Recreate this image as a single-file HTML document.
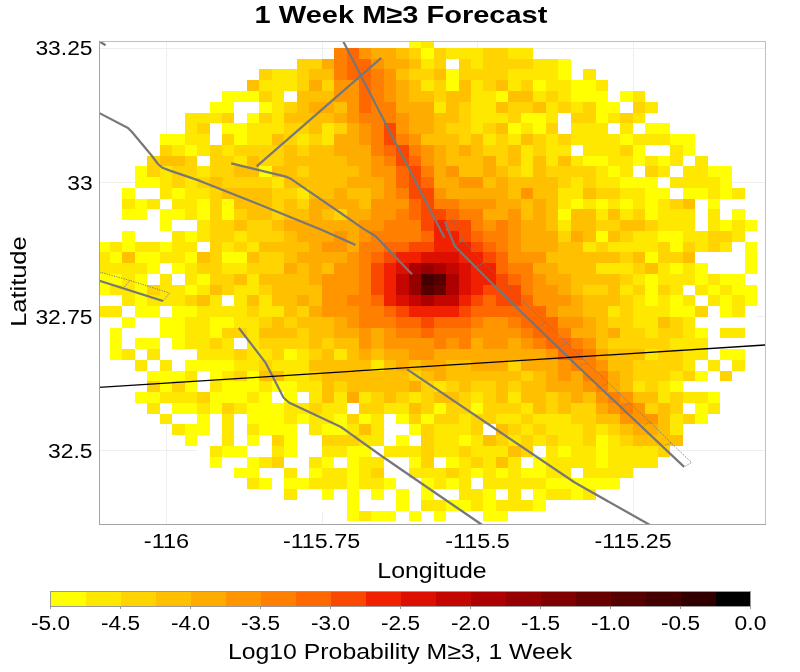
<!DOCTYPE html>
<html><head><meta charset="utf-8"><style>
html,body{margin:0;padding:0;background:#fff;}
svg{display:block;will-change:transform;}
text{font-family:"Liberation Sans",sans-serif;fill:#000;}
</style></head><body>
<svg width="800" height="672" viewBox="0 0 800 672">
<rect width="800" height="672" fill="#fff"/>
<text x="401" y="23" font-size="24.5" font-weight="bold" text-anchor="middle" textLength="292.8" lengthAdjust="spacingAndGlyphs">1 Week M≥3 Forecast</text>
<g stroke="#efefef" stroke-width="1" shape-rendering="crispEdges">
<line x1="166.5" y1="41" x2="166.5" y2="524"/><line x1="322.5" y1="41" x2="322.5" y2="524"/>
<line x1="477.5" y1="41" x2="477.5" y2="524"/><line x1="633.5" y1="41" x2="633.5" y2="524"/>
<line x1="99" y1="48.5" x2="765" y2="48.5"/><line x1="99" y1="182.5" x2="765" y2="182.5"/>
<line x1="99" y1="316.5" x2="765" y2="316.5"/><line x1="99" y1="450.5" x2="765" y2="450.5"/>
</g>
<g shape-rendering="crispEdges">
<rect x="396" y="42" width="13" height="6" fill="#ffffff"/>
<rect x="409" y="42" width="12" height="6" fill="#ffff00"/>
<rect x="421" y="42" width="13" height="6" fill="#ffe800"/>
<rect x="434" y="42" width="25" height="6" fill="#ffffff"/>
<rect x="334" y="48" width="13" height="11" fill="#ff8000"/>
<rect x="347" y="48" width="12" height="11" fill="#ff6700"/>
<rect x="359" y="48" width="12" height="11" fill="#ff9600"/>
<rect x="371" y="48" width="25" height="11" fill="#ffac00"/>
<rect x="396" y="48" width="13" height="11" fill="#ffc000"/>
<rect x="409" y="48" width="12" height="11" fill="#ffd400"/>
<rect x="421" y="48" width="13" height="11" fill="#ffff00"/>
<rect x="434" y="48" width="12" height="11" fill="#ffd400"/>
<rect x="446" y="48" width="37" height="11" fill="#ffe800"/>
<rect x="483" y="48" width="25" height="11" fill="#ffd400"/>
<rect x="508" y="48" width="25" height="11" fill="#ffe800"/>
<rect x="297" y="59" width="25" height="10" fill="#ffd400"/>
<rect x="322" y="59" width="12" height="10" fill="#ffac00"/>
<rect x="334" y="59" width="13" height="10" fill="#ff8000"/>
<rect x="347" y="59" width="24" height="10" fill="#ff6700"/>
<rect x="371" y="59" width="13" height="10" fill="#ff9600"/>
<rect x="384" y="59" width="25" height="10" fill="#ffac00"/>
<rect x="409" y="59" width="12" height="10" fill="#ffc000"/>
<rect x="421" y="59" width="13" height="10" fill="#ffe800"/>
<rect x="434" y="59" width="12" height="10" fill="#ffd400"/>
<rect x="446" y="59" width="13" height="10" fill="#ffffff"/>
<rect x="459" y="59" width="12" height="10" fill="#ffd400"/>
<rect x="471" y="59" width="12" height="10" fill="#ffe800"/>
<rect x="483" y="59" width="50" height="10" fill="#ffd400"/>
<rect x="533" y="59" width="25" height="10" fill="#ffe800"/>
<rect x="558" y="59" width="13" height="10" fill="#ffff00"/>
<rect x="259" y="69" width="13" height="11" fill="#ffd400"/>
<rect x="272" y="69" width="25" height="11" fill="#ffe800"/>
<rect x="297" y="69" width="12" height="11" fill="#ffd400"/>
<rect x="309" y="69" width="25" height="11" fill="#ffc000"/>
<rect x="334" y="69" width="13" height="11" fill="#ff8000"/>
<rect x="347" y="69" width="24" height="11" fill="#ff6700"/>
<rect x="371" y="69" width="13" height="11" fill="#ff8000"/>
<rect x="384" y="69" width="12" height="11" fill="#ff9600"/>
<rect x="396" y="69" width="13" height="11" fill="#ffc000"/>
<rect x="409" y="69" width="25" height="11" fill="#ffd400"/>
<rect x="434" y="69" width="12" height="11" fill="#ffc000"/>
<rect x="446" y="69" width="13" height="11" fill="#ffff00"/>
<rect x="459" y="69" width="49" height="11" fill="#ffd400"/>
<rect x="508" y="69" width="50" height="11" fill="#ffe800"/>
<rect x="558" y="69" width="13" height="11" fill="#ffff00"/>
<rect x="571" y="69" width="12" height="11" fill="#ffffff"/>
<rect x="583" y="69" width="13" height="11" fill="#ffe800"/>
<rect x="234" y="80" width="13" height="11" fill="#ffffff"/>
<rect x="247" y="80" width="12" height="11" fill="#ffc000"/>
<rect x="259" y="80" width="38" height="11" fill="#ffe800"/>
<rect x="297" y="80" width="12" height="11" fill="#ffd400"/>
<rect x="309" y="80" width="13" height="11" fill="#ffac00"/>
<rect x="322" y="80" width="12" height="11" fill="#ffd400"/>
<rect x="334" y="80" width="25" height="11" fill="#ff9600"/>
<rect x="359" y="80" width="12" height="11" fill="#ff6700"/>
<rect x="371" y="80" width="13" height="11" fill="#ff8000"/>
<rect x="384" y="80" width="12" height="11" fill="#ff9600"/>
<rect x="396" y="80" width="13" height="11" fill="#ffac00"/>
<rect x="409" y="80" width="12" height="11" fill="#ffc000"/>
<rect x="421" y="80" width="13" height="11" fill="#ffe800"/>
<rect x="434" y="80" width="12" height="11" fill="#ffd400"/>
<rect x="446" y="80" width="13" height="11" fill="#ffff00"/>
<rect x="459" y="80" width="12" height="11" fill="#ffc000"/>
<rect x="471" y="80" width="12" height="11" fill="#ffe800"/>
<rect x="483" y="80" width="13" height="11" fill="#ffd400"/>
<rect x="496" y="80" width="12" height="11" fill="#ffc000"/>
<rect x="508" y="80" width="13" height="11" fill="#ffe800"/>
<rect x="521" y="80" width="12" height="11" fill="#ffd400"/>
<rect x="533" y="80" width="13" height="11" fill="#ffff00"/>
<rect x="546" y="80" width="25" height="11" fill="#ffe800"/>
<rect x="571" y="80" width="25" height="11" fill="#ffff00"/>
<rect x="596" y="80" width="12" height="11" fill="#ffe800"/>
<rect x="608" y="80" width="12" height="11" fill="#ffffff"/>
<rect x="222" y="91" width="37" height="11" fill="#ffff00"/>
<rect x="259" y="91" width="13" height="11" fill="#ffd400"/>
<rect x="272" y="91" width="12" height="11" fill="#ffe800"/>
<rect x="284" y="91" width="13" height="11" fill="#ffffff"/>
<rect x="297" y="91" width="37" height="11" fill="#ffc000"/>
<rect x="334" y="91" width="25" height="11" fill="#ff9600"/>
<rect x="359" y="91" width="12" height="11" fill="#ff6700"/>
<rect x="371" y="91" width="13" height="11" fill="#ff8000"/>
<rect x="384" y="91" width="12" height="11" fill="#ff9600"/>
<rect x="396" y="91" width="13" height="11" fill="#ffac00"/>
<rect x="409" y="91" width="25" height="11" fill="#ffc000"/>
<rect x="434" y="91" width="12" height="11" fill="#ffd400"/>
<rect x="446" y="91" width="25" height="11" fill="#ffc000"/>
<rect x="471" y="91" width="25" height="11" fill="#ffe800"/>
<rect x="496" y="91" width="12" height="11" fill="#ffff00"/>
<rect x="508" y="91" width="25" height="11" fill="#ffc000"/>
<rect x="533" y="91" width="13" height="11" fill="#ffe800"/>
<rect x="546" y="91" width="12" height="11" fill="#ffd400"/>
<rect x="558" y="91" width="13" height="11" fill="#ffe800"/>
<rect x="571" y="91" width="37" height="11" fill="#ffff00"/>
<rect x="608" y="91" width="12" height="11" fill="#ffffff"/>
<rect x="620" y="91" width="13" height="11" fill="#ffff00"/>
<rect x="633" y="91" width="12" height="11" fill="#ffe800"/>
<rect x="210" y="102" width="24" height="11" fill="#ffff00"/>
<rect x="234" y="102" width="25" height="11" fill="#ffffff"/>
<rect x="259" y="102" width="13" height="11" fill="#ffff00"/>
<rect x="272" y="102" width="12" height="11" fill="#ffe800"/>
<rect x="284" y="102" width="13" height="11" fill="#ffd400"/>
<rect x="297" y="102" width="12" height="11" fill="#ffc000"/>
<rect x="309" y="102" width="25" height="11" fill="#ffac00"/>
<rect x="334" y="102" width="13" height="11" fill="#ffc000"/>
<rect x="347" y="102" width="12" height="11" fill="#ff9600"/>
<rect x="359" y="102" width="12" height="11" fill="#ff6700"/>
<rect x="371" y="102" width="25" height="11" fill="#ff8000"/>
<rect x="396" y="102" width="38" height="11" fill="#ffac00"/>
<rect x="434" y="102" width="12" height="11" fill="#ffe800"/>
<rect x="446" y="102" width="13" height="11" fill="#ffc000"/>
<rect x="459" y="102" width="12" height="11" fill="#ffd400"/>
<rect x="471" y="102" width="25" height="11" fill="#ffe800"/>
<rect x="496" y="102" width="12" height="11" fill="#ffc000"/>
<rect x="508" y="102" width="25" height="11" fill="#ffd400"/>
<rect x="533" y="102" width="13" height="11" fill="#ffc000"/>
<rect x="546" y="102" width="12" height="11" fill="#ffe800"/>
<rect x="558" y="102" width="13" height="11" fill="#ffd400"/>
<rect x="571" y="102" width="12" height="11" fill="#ffe800"/>
<rect x="583" y="102" width="13" height="11" fill="#ffd400"/>
<rect x="596" y="102" width="24" height="11" fill="#ffff00"/>
<rect x="620" y="102" width="13" height="11" fill="#ffffff"/>
<rect x="633" y="102" width="12" height="11" fill="#ffd400"/>
<rect x="645" y="102" width="13" height="11" fill="#ffe800"/>
<rect x="185" y="113" width="37" height="10" fill="#ffe800"/>
<rect x="222" y="113" width="12" height="10" fill="#ffd400"/>
<rect x="234" y="113" width="13" height="10" fill="#ffffff"/>
<rect x="247" y="113" width="12" height="10" fill="#ffff00"/>
<rect x="259" y="113" width="13" height="10" fill="#ffd400"/>
<rect x="272" y="113" width="12" height="10" fill="#ffe800"/>
<rect x="284" y="113" width="50" height="10" fill="#ffc000"/>
<rect x="334" y="113" width="13" height="10" fill="#ffac00"/>
<rect x="347" y="113" width="12" height="10" fill="#ff9600"/>
<rect x="359" y="113" width="37" height="10" fill="#ff8000"/>
<rect x="396" y="113" width="13" height="10" fill="#ff9600"/>
<rect x="409" y="113" width="25" height="10" fill="#ffac00"/>
<rect x="434" y="113" width="25" height="10" fill="#ffc000"/>
<rect x="459" y="113" width="12" height="10" fill="#ffd400"/>
<rect x="471" y="113" width="37" height="10" fill="#ffe800"/>
<rect x="508" y="113" width="13" height="10" fill="#ffd400"/>
<rect x="521" y="113" width="25" height="10" fill="#ffff00"/>
<rect x="546" y="113" width="12" height="10" fill="#ffe800"/>
<rect x="558" y="113" width="13" height="10" fill="#ffffff"/>
<rect x="571" y="113" width="25" height="10" fill="#ffd400"/>
<rect x="596" y="113" width="12" height="10" fill="#ffff00"/>
<rect x="608" y="113" width="12" height="10" fill="#ffe800"/>
<rect x="620" y="113" width="13" height="10" fill="#ffd400"/>
<rect x="633" y="113" width="12" height="10" fill="#ffe800"/>
<rect x="645" y="113" width="25" height="10" fill="#ffffff"/>
<rect x="172" y="123" width="13" height="11" fill="#ffffff"/>
<rect x="185" y="123" width="12" height="11" fill="#ffe800"/>
<rect x="197" y="123" width="13" height="11" fill="#ffd400"/>
<rect x="210" y="123" width="12" height="11" fill="#ffffff"/>
<rect x="222" y="123" width="25" height="11" fill="#ffff00"/>
<rect x="247" y="123" width="37" height="11" fill="#ffe800"/>
<rect x="284" y="123" width="25" height="11" fill="#ffd400"/>
<rect x="309" y="123" width="13" height="11" fill="#ffc000"/>
<rect x="322" y="123" width="12" height="11" fill="#ffe800"/>
<rect x="334" y="123" width="13" height="11" fill="#ffd400"/>
<rect x="347" y="123" width="12" height="11" fill="#ffac00"/>
<rect x="359" y="123" width="12" height="11" fill="#ff9600"/>
<rect x="371" y="123" width="13" height="11" fill="#ff8000"/>
<rect x="384" y="123" width="12" height="11" fill="#fa4800"/>
<rect x="396" y="123" width="13" height="11" fill="#ff9600"/>
<rect x="409" y="123" width="25" height="11" fill="#ffac00"/>
<rect x="434" y="123" width="12" height="11" fill="#ffc000"/>
<rect x="446" y="123" width="25" height="11" fill="#ffd400"/>
<rect x="471" y="123" width="12" height="11" fill="#ffe800"/>
<rect x="483" y="123" width="13" height="11" fill="#ffd400"/>
<rect x="496" y="123" width="12" height="11" fill="#ffc000"/>
<rect x="508" y="123" width="13" height="11" fill="#ffff00"/>
<rect x="521" y="123" width="12" height="11" fill="#ffe800"/>
<rect x="533" y="123" width="13" height="11" fill="#ffff00"/>
<rect x="546" y="123" width="12" height="11" fill="#ffd400"/>
<rect x="558" y="123" width="13" height="11" fill="#ffffff"/>
<rect x="571" y="123" width="37" height="11" fill="#ffe800"/>
<rect x="608" y="123" width="12" height="11" fill="#ffffff"/>
<rect x="620" y="123" width="13" height="11" fill="#ffe800"/>
<rect x="633" y="123" width="12" height="11" fill="#ffffff"/>
<rect x="645" y="123" width="25" height="11" fill="#ffff00"/>
<rect x="670" y="123" width="13" height="11" fill="#ffffff"/>
<rect x="160" y="134" width="25" height="11" fill="#ffff00"/>
<rect x="185" y="134" width="25" height="11" fill="#ffe800"/>
<rect x="210" y="134" width="12" height="11" fill="#ffffff"/>
<rect x="222" y="134" width="12" height="11" fill="#ffd400"/>
<rect x="234" y="134" width="13" height="11" fill="#ffff00"/>
<rect x="247" y="134" width="25" height="11" fill="#ffe800"/>
<rect x="272" y="134" width="12" height="11" fill="#ffc000"/>
<rect x="284" y="134" width="13" height="11" fill="#ffd400"/>
<rect x="297" y="134" width="12" height="11" fill="#ffe800"/>
<rect x="309" y="134" width="13" height="11" fill="#ffd400"/>
<rect x="322" y="134" width="12" height="11" fill="#ffe800"/>
<rect x="334" y="134" width="25" height="11" fill="#ffac00"/>
<rect x="359" y="134" width="12" height="11" fill="#ff9600"/>
<rect x="371" y="134" width="13" height="11" fill="#ff8000"/>
<rect x="384" y="134" width="12" height="11" fill="#fa4800"/>
<rect x="396" y="134" width="13" height="11" fill="#ff8000"/>
<rect x="409" y="134" width="12" height="11" fill="#ff9600"/>
<rect x="421" y="134" width="38" height="11" fill="#ffc000"/>
<rect x="459" y="134" width="12" height="11" fill="#ffd400"/>
<rect x="471" y="134" width="12" height="11" fill="#ffc000"/>
<rect x="483" y="134" width="13" height="11" fill="#ffe800"/>
<rect x="496" y="134" width="12" height="11" fill="#ffd400"/>
<rect x="508" y="134" width="13" height="11" fill="#ffe800"/>
<rect x="521" y="134" width="12" height="11" fill="#ffc000"/>
<rect x="533" y="134" width="13" height="11" fill="#ffd400"/>
<rect x="546" y="134" width="12" height="11" fill="#ffe800"/>
<rect x="558" y="134" width="13" height="11" fill="#ffd400"/>
<rect x="571" y="134" width="49" height="11" fill="#ffe800"/>
<rect x="620" y="134" width="13" height="11" fill="#ffff00"/>
<rect x="633" y="134" width="37" height="11" fill="#ffe800"/>
<rect x="670" y="134" width="25" height="11" fill="#ffff00"/>
<rect x="160" y="145" width="12" height="11" fill="#ffd400"/>
<rect x="172" y="145" width="13" height="11" fill="#ffe800"/>
<rect x="185" y="145" width="12" height="11" fill="#ffff00"/>
<rect x="197" y="145" width="13" height="11" fill="#ffe800"/>
<rect x="210" y="145" width="12" height="11" fill="#ffd400"/>
<rect x="222" y="145" width="12" height="11" fill="#ffe800"/>
<rect x="234" y="145" width="50" height="11" fill="#ffd400"/>
<rect x="284" y="145" width="13" height="11" fill="#ffc000"/>
<rect x="297" y="145" width="12" height="11" fill="#ffd400"/>
<rect x="309" y="145" width="25" height="11" fill="#ffc000"/>
<rect x="334" y="145" width="37" height="11" fill="#ffac00"/>
<rect x="371" y="145" width="13" height="11" fill="#ff8000"/>
<rect x="384" y="145" width="12" height="11" fill="#ff6700"/>
<rect x="396" y="145" width="13" height="11" fill="#fa4800"/>
<rect x="409" y="145" width="12" height="11" fill="#ff8000"/>
<rect x="421" y="145" width="13" height="11" fill="#ff9600"/>
<rect x="434" y="145" width="12" height="11" fill="#ffac00"/>
<rect x="446" y="145" width="13" height="11" fill="#ffc000"/>
<rect x="459" y="145" width="12" height="11" fill="#ffac00"/>
<rect x="471" y="145" width="12" height="11" fill="#ffc000"/>
<rect x="483" y="145" width="25" height="11" fill="#ffd400"/>
<rect x="508" y="145" width="13" height="11" fill="#ffc000"/>
<rect x="521" y="145" width="12" height="11" fill="#ffe800"/>
<rect x="533" y="145" width="13" height="11" fill="#ffd400"/>
<rect x="546" y="145" width="25" height="11" fill="#ffe800"/>
<rect x="571" y="145" width="12" height="11" fill="#ffffff"/>
<rect x="583" y="145" width="37" height="11" fill="#ffe800"/>
<rect x="620" y="145" width="13" height="11" fill="#ffd400"/>
<rect x="633" y="145" width="12" height="11" fill="#ffff00"/>
<rect x="645" y="145" width="25" height="11" fill="#ffffff"/>
<rect x="670" y="145" width="13" height="11" fill="#ffe800"/>
<rect x="683" y="145" width="12" height="11" fill="#ffff00"/>
<rect x="695" y="145" width="13" height="11" fill="#ffffff"/>
<rect x="147" y="156" width="13" height="10" fill="#ffd400"/>
<rect x="160" y="156" width="25" height="10" fill="#ffc000"/>
<rect x="185" y="156" width="12" height="10" fill="#ffd400"/>
<rect x="197" y="156" width="13" height="10" fill="#ffffff"/>
<rect x="210" y="156" width="24" height="10" fill="#ffd400"/>
<rect x="234" y="156" width="13" height="10" fill="#ffe800"/>
<rect x="247" y="156" width="12" height="10" fill="#ffc000"/>
<rect x="259" y="156" width="25" height="10" fill="#ffd400"/>
<rect x="284" y="156" width="63" height="10" fill="#ffc000"/>
<rect x="347" y="156" width="24" height="10" fill="#ffac00"/>
<rect x="371" y="156" width="13" height="10" fill="#ff9600"/>
<rect x="384" y="156" width="12" height="10" fill="#ff8000"/>
<rect x="396" y="156" width="13" height="10" fill="#fa4800"/>
<rect x="409" y="156" width="12" height="10" fill="#ff6700"/>
<rect x="421" y="156" width="13" height="10" fill="#ff9600"/>
<rect x="434" y="156" width="12" height="10" fill="#ffac00"/>
<rect x="446" y="156" width="37" height="10" fill="#ffc000"/>
<rect x="483" y="156" width="13" height="10" fill="#ffac00"/>
<rect x="496" y="156" width="12" height="10" fill="#ffd400"/>
<rect x="508" y="156" width="13" height="10" fill="#ffc000"/>
<rect x="521" y="156" width="12" height="10" fill="#ffe800"/>
<rect x="533" y="156" width="13" height="10" fill="#ffc000"/>
<rect x="546" y="156" width="12" height="10" fill="#ffe800"/>
<rect x="558" y="156" width="13" height="10" fill="#ffc000"/>
<rect x="571" y="156" width="12" height="10" fill="#ffe800"/>
<rect x="583" y="156" width="25" height="10" fill="#ffff00"/>
<rect x="608" y="156" width="25" height="10" fill="#ffe800"/>
<rect x="633" y="156" width="12" height="10" fill="#ffff00"/>
<rect x="645" y="156" width="13" height="10" fill="#ffe800"/>
<rect x="658" y="156" width="12" height="10" fill="#ffff00"/>
<rect x="670" y="156" width="13" height="10" fill="#ffe800"/>
<rect x="683" y="156" width="12" height="10" fill="#ffffff"/>
<rect x="695" y="156" width="13" height="10" fill="#ffe800"/>
<rect x="708" y="156" width="12" height="10" fill="#ffffff"/>
<rect x="135" y="166" width="12" height="11" fill="#ffff00"/>
<rect x="147" y="166" width="13" height="11" fill="#ffd400"/>
<rect x="160" y="166" width="12" height="11" fill="#ffe800"/>
<rect x="172" y="166" width="25" height="11" fill="#ffd400"/>
<rect x="197" y="166" width="13" height="11" fill="#ffe800"/>
<rect x="210" y="166" width="24" height="11" fill="#ffd400"/>
<rect x="234" y="166" width="25" height="11" fill="#ffc000"/>
<rect x="259" y="166" width="13" height="11" fill="#ffff00"/>
<rect x="272" y="166" width="25" height="11" fill="#ffc000"/>
<rect x="297" y="166" width="12" height="11" fill="#ffd400"/>
<rect x="309" y="166" width="50" height="11" fill="#ffc000"/>
<rect x="359" y="166" width="12" height="11" fill="#ffac00"/>
<rect x="371" y="166" width="25" height="11" fill="#ff9600"/>
<rect x="396" y="166" width="13" height="11" fill="#ff6700"/>
<rect x="409" y="166" width="12" height="11" fill="#fa4800"/>
<rect x="421" y="166" width="13" height="11" fill="#ff8000"/>
<rect x="434" y="166" width="12" height="11" fill="#ffac00"/>
<rect x="446" y="166" width="13" height="11" fill="#ff9600"/>
<rect x="459" y="166" width="24" height="11" fill="#ffc000"/>
<rect x="483" y="166" width="13" height="11" fill="#ffac00"/>
<rect x="496" y="166" width="12" height="11" fill="#ffc000"/>
<rect x="508" y="166" width="13" height="11" fill="#ffd400"/>
<rect x="521" y="166" width="12" height="11" fill="#ffe800"/>
<rect x="533" y="166" width="13" height="11" fill="#ffc000"/>
<rect x="546" y="166" width="50" height="11" fill="#ffd400"/>
<rect x="596" y="166" width="12" height="11" fill="#ffe800"/>
<rect x="608" y="166" width="12" height="11" fill="#ffff00"/>
<rect x="620" y="166" width="13" height="11" fill="#ffe800"/>
<rect x="633" y="166" width="12" height="11" fill="#ffffff"/>
<rect x="645" y="166" width="13" height="11" fill="#ffd400"/>
<rect x="658" y="166" width="12" height="11" fill="#ffe800"/>
<rect x="670" y="166" width="13" height="11" fill="#ffffff"/>
<rect x="683" y="166" width="25" height="11" fill="#ffe800"/>
<rect x="708" y="166" width="24" height="11" fill="#ffff00"/>
<rect x="135" y="177" width="25" height="11" fill="#ffff00"/>
<rect x="160" y="177" width="12" height="11" fill="#ffe800"/>
<rect x="172" y="177" width="13" height="11" fill="#ffd400"/>
<rect x="185" y="177" width="12" height="11" fill="#ffe800"/>
<rect x="197" y="177" width="13" height="11" fill="#ffd400"/>
<rect x="210" y="177" width="12" height="11" fill="#ffc000"/>
<rect x="222" y="177" width="50" height="11" fill="#ffd400"/>
<rect x="272" y="177" width="12" height="11" fill="#ffe800"/>
<rect x="284" y="177" width="63" height="11" fill="#ffc000"/>
<rect x="347" y="177" width="37" height="11" fill="#ffac00"/>
<rect x="384" y="177" width="12" height="11" fill="#ff9600"/>
<rect x="396" y="177" width="13" height="11" fill="#ff6700"/>
<rect x="409" y="177" width="12" height="11" fill="#fa4800"/>
<rect x="421" y="177" width="13" height="11" fill="#ff6700"/>
<rect x="434" y="177" width="25" height="11" fill="#ffac00"/>
<rect x="459" y="177" width="24" height="11" fill="#ff9600"/>
<rect x="483" y="177" width="13" height="11" fill="#ffc000"/>
<rect x="496" y="177" width="12" height="11" fill="#ffac00"/>
<rect x="508" y="177" width="50" height="11" fill="#ffc000"/>
<rect x="558" y="177" width="13" height="11" fill="#ffd400"/>
<rect x="571" y="177" width="12" height="11" fill="#ffe800"/>
<rect x="583" y="177" width="13" height="11" fill="#ffd400"/>
<rect x="596" y="177" width="24" height="11" fill="#ffe800"/>
<rect x="620" y="177" width="38" height="11" fill="#ffff00"/>
<rect x="658" y="177" width="12" height="11" fill="#ffffff"/>
<rect x="670" y="177" width="50" height="11" fill="#ffe800"/>
<rect x="720" y="177" width="12" height="11" fill="#ffff00"/>
<rect x="122" y="188" width="13" height="11" fill="#ffff00"/>
<rect x="135" y="188" width="25" height="11" fill="#ffffff"/>
<rect x="160" y="188" width="12" height="11" fill="#ffe800"/>
<rect x="172" y="188" width="13" height="11" fill="#ffff00"/>
<rect x="185" y="188" width="25" height="11" fill="#ffe800"/>
<rect x="210" y="188" width="12" height="11" fill="#ffd400"/>
<rect x="222" y="188" width="50" height="11" fill="#ffc000"/>
<rect x="272" y="188" width="25" height="11" fill="#ffd400"/>
<rect x="297" y="188" width="12" height="11" fill="#ffe800"/>
<rect x="309" y="188" width="25" height="11" fill="#ffc000"/>
<rect x="334" y="188" width="13" height="11" fill="#ffac00"/>
<rect x="347" y="188" width="24" height="11" fill="#ffc000"/>
<rect x="371" y="188" width="13" height="11" fill="#ffac00"/>
<rect x="384" y="188" width="12" height="11" fill="#ff9600"/>
<rect x="396" y="188" width="13" height="11" fill="#ff8000"/>
<rect x="409" y="188" width="25" height="11" fill="#fa4800"/>
<rect x="434" y="188" width="12" height="11" fill="#ff9600"/>
<rect x="446" y="188" width="62" height="11" fill="#ffac00"/>
<rect x="508" y="188" width="13" height="11" fill="#ffc000"/>
<rect x="521" y="188" width="12" height="11" fill="#ff9600"/>
<rect x="533" y="188" width="25" height="11" fill="#ffc000"/>
<rect x="558" y="188" width="25" height="11" fill="#ffe800"/>
<rect x="583" y="188" width="13" height="11" fill="#ffc000"/>
<rect x="596" y="188" width="24" height="11" fill="#ffd400"/>
<rect x="620" y="188" width="25" height="11" fill="#ffe800"/>
<rect x="645" y="188" width="25" height="11" fill="#ffff00"/>
<rect x="670" y="188" width="13" height="11" fill="#ffffff"/>
<rect x="683" y="188" width="25" height="11" fill="#ffff00"/>
<rect x="708" y="188" width="12" height="11" fill="#ffe800"/>
<rect x="720" y="188" width="12" height="11" fill="#ffff00"/>
<rect x="732" y="188" width="13" height="11" fill="#ffe800"/>
<rect x="122" y="199" width="13" height="10" fill="#ffe800"/>
<rect x="135" y="199" width="12" height="10" fill="#ffff00"/>
<rect x="147" y="199" width="13" height="10" fill="#ffe800"/>
<rect x="160" y="199" width="12" height="10" fill="#ffffff"/>
<rect x="172" y="199" width="25" height="10" fill="#ffe800"/>
<rect x="197" y="199" width="13" height="10" fill="#ffff00"/>
<rect x="210" y="199" width="12" height="10" fill="#ffd400"/>
<rect x="222" y="199" width="12" height="10" fill="#ffff00"/>
<rect x="234" y="199" width="38" height="10" fill="#ffc000"/>
<rect x="272" y="199" width="12" height="10" fill="#ffd400"/>
<rect x="284" y="199" width="13" height="10" fill="#ffc000"/>
<rect x="297" y="199" width="12" height="10" fill="#ffd400"/>
<rect x="309" y="199" width="50" height="10" fill="#ffac00"/>
<rect x="359" y="199" width="12" height="10" fill="#ffc000"/>
<rect x="371" y="199" width="38" height="10" fill="#ff9600"/>
<rect x="409" y="199" width="12" height="10" fill="#ff6700"/>
<rect x="421" y="199" width="13" height="10" fill="#fa4800"/>
<rect x="434" y="199" width="25" height="10" fill="#ff8000"/>
<rect x="459" y="199" width="37" height="10" fill="#ff9600"/>
<rect x="496" y="199" width="25" height="10" fill="#ffac00"/>
<rect x="521" y="199" width="12" height="10" fill="#ffc000"/>
<rect x="533" y="199" width="13" height="10" fill="#ffac00"/>
<rect x="546" y="199" width="12" height="10" fill="#ffc000"/>
<rect x="558" y="199" width="13" height="10" fill="#ffe800"/>
<rect x="571" y="199" width="12" height="10" fill="#ffff00"/>
<rect x="583" y="199" width="13" height="10" fill="#ffe800"/>
<rect x="596" y="199" width="12" height="10" fill="#ffff00"/>
<rect x="608" y="199" width="12" height="10" fill="#ffe800"/>
<rect x="620" y="199" width="13" height="10" fill="#ffff00"/>
<rect x="633" y="199" width="12" height="10" fill="#ffe800"/>
<rect x="645" y="199" width="13" height="10" fill="#ffff00"/>
<rect x="658" y="199" width="12" height="10" fill="#ffe800"/>
<rect x="670" y="199" width="13" height="10" fill="#ffd400"/>
<rect x="683" y="199" width="12" height="10" fill="#ffc000"/>
<rect x="695" y="199" width="13" height="10" fill="#ffffff"/>
<rect x="708" y="199" width="12" height="10" fill="#ffff00"/>
<rect x="720" y="199" width="25" height="10" fill="#ffffff"/>
<rect x="110" y="209" width="12" height="11" fill="#ffffff"/>
<rect x="122" y="209" width="25" height="11" fill="#ffff00"/>
<rect x="147" y="209" width="13" height="11" fill="#ffffff"/>
<rect x="160" y="209" width="25" height="11" fill="#ffff00"/>
<rect x="185" y="209" width="12" height="11" fill="#ffe800"/>
<rect x="197" y="209" width="13" height="11" fill="#ffff00"/>
<rect x="210" y="209" width="12" height="11" fill="#ffd400"/>
<rect x="222" y="209" width="12" height="11" fill="#ffff00"/>
<rect x="234" y="209" width="13" height="11" fill="#ffd400"/>
<rect x="247" y="209" width="25" height="11" fill="#ffc000"/>
<rect x="272" y="209" width="12" height="11" fill="#ffd400"/>
<rect x="284" y="209" width="25" height="11" fill="#ffc000"/>
<rect x="309" y="209" width="13" height="11" fill="#ffac00"/>
<rect x="322" y="209" width="12" height="11" fill="#ffc000"/>
<rect x="334" y="209" width="13" height="11" fill="#ffd400"/>
<rect x="347" y="209" width="24" height="11" fill="#ffac00"/>
<rect x="371" y="209" width="25" height="11" fill="#ff9600"/>
<rect x="396" y="209" width="13" height="11" fill="#ff8000"/>
<rect x="409" y="209" width="12" height="11" fill="#ff6700"/>
<rect x="421" y="209" width="25" height="11" fill="#fa4800"/>
<rect x="446" y="209" width="13" height="11" fill="#ff6700"/>
<rect x="459" y="209" width="24" height="11" fill="#ff8000"/>
<rect x="483" y="209" width="25" height="11" fill="#ffac00"/>
<rect x="508" y="209" width="13" height="11" fill="#ff9600"/>
<rect x="521" y="209" width="12" height="11" fill="#ffc000"/>
<rect x="533" y="209" width="13" height="11" fill="#ffac00"/>
<rect x="546" y="209" width="12" height="11" fill="#ffc000"/>
<rect x="558" y="209" width="13" height="11" fill="#ffff00"/>
<rect x="571" y="209" width="25" height="11" fill="#ffc000"/>
<rect x="596" y="209" width="12" height="11" fill="#ffe800"/>
<rect x="608" y="209" width="12" height="11" fill="#ffc000"/>
<rect x="620" y="209" width="13" height="11" fill="#ffe800"/>
<rect x="633" y="209" width="12" height="11" fill="#ffd400"/>
<rect x="645" y="209" width="13" height="11" fill="#ffff00"/>
<rect x="658" y="209" width="37" height="11" fill="#ffe800"/>
<rect x="695" y="209" width="13" height="11" fill="#ffffff"/>
<rect x="708" y="209" width="12" height="11" fill="#ffe800"/>
<rect x="720" y="209" width="12" height="11" fill="#ffffff"/>
<rect x="732" y="209" width="13" height="11" fill="#ffff00"/>
<rect x="110" y="220" width="50" height="11" fill="#ffffff"/>
<rect x="160" y="220" width="12" height="11" fill="#ffff00"/>
<rect x="172" y="220" width="25" height="11" fill="#ffffff"/>
<rect x="197" y="220" width="13" height="11" fill="#ffe800"/>
<rect x="210" y="220" width="24" height="11" fill="#ffd400"/>
<rect x="234" y="220" width="13" height="11" fill="#ffc000"/>
<rect x="247" y="220" width="25" height="11" fill="#ffd400"/>
<rect x="272" y="220" width="12" height="11" fill="#ffc000"/>
<rect x="284" y="220" width="75" height="11" fill="#ffac00"/>
<rect x="359" y="220" width="25" height="11" fill="#ff9600"/>
<rect x="384" y="220" width="37" height="11" fill="#ff8000"/>
<rect x="421" y="220" width="13" height="11" fill="#fa4800"/>
<rect x="434" y="220" width="12" height="11" fill="#f02000"/>
<rect x="446" y="220" width="25" height="11" fill="#fa4800"/>
<rect x="471" y="220" width="12" height="11" fill="#ff8000"/>
<rect x="483" y="220" width="13" height="11" fill="#ff9600"/>
<rect x="496" y="220" width="12" height="11" fill="#ff8000"/>
<rect x="508" y="220" width="13" height="11" fill="#ff9600"/>
<rect x="521" y="220" width="25" height="11" fill="#ffac00"/>
<rect x="546" y="220" width="12" height="11" fill="#ffc000"/>
<rect x="558" y="220" width="13" height="11" fill="#ffe800"/>
<rect x="571" y="220" width="25" height="11" fill="#ffc000"/>
<rect x="596" y="220" width="24" height="11" fill="#ffd400"/>
<rect x="620" y="220" width="25" height="11" fill="#ffc000"/>
<rect x="645" y="220" width="13" height="11" fill="#ffd400"/>
<rect x="658" y="220" width="37" height="11" fill="#ffe800"/>
<rect x="695" y="220" width="13" height="11" fill="#ffffff"/>
<rect x="708" y="220" width="12" height="11" fill="#ffe800"/>
<rect x="720" y="220" width="12" height="11" fill="#ffff00"/>
<rect x="732" y="220" width="13" height="11" fill="#ffe800"/>
<rect x="745" y="220" width="12" height="11" fill="#ffff00"/>
<rect x="110" y="231" width="12" height="11" fill="#ffffff"/>
<rect x="122" y="231" width="13" height="11" fill="#ffff00"/>
<rect x="135" y="231" width="37" height="11" fill="#ffffff"/>
<rect x="172" y="231" width="13" height="11" fill="#ffe800"/>
<rect x="185" y="231" width="12" height="11" fill="#ffff00"/>
<rect x="197" y="231" width="13" height="11" fill="#ffe800"/>
<rect x="210" y="231" width="24" height="11" fill="#ffd400"/>
<rect x="234" y="231" width="13" height="11" fill="#ffe800"/>
<rect x="247" y="231" width="37" height="11" fill="#ffd400"/>
<rect x="284" y="231" width="13" height="11" fill="#ffc000"/>
<rect x="297" y="231" width="37" height="11" fill="#ffac00"/>
<rect x="334" y="231" width="13" height="11" fill="#ff9600"/>
<rect x="347" y="231" width="12" height="11" fill="#ffac00"/>
<rect x="359" y="231" width="12" height="11" fill="#ff9600"/>
<rect x="371" y="231" width="50" height="11" fill="#ff8000"/>
<rect x="421" y="231" width="13" height="11" fill="#ff6700"/>
<rect x="434" y="231" width="25" height="11" fill="#f02000"/>
<rect x="459" y="231" width="12" height="11" fill="#fa4800"/>
<rect x="471" y="231" width="12" height="11" fill="#ff6700"/>
<rect x="483" y="231" width="25" height="11" fill="#ff8000"/>
<rect x="508" y="231" width="13" height="11" fill="#ff9600"/>
<rect x="521" y="231" width="37" height="11" fill="#ffac00"/>
<rect x="558" y="231" width="13" height="11" fill="#ffd400"/>
<rect x="571" y="231" width="12" height="11" fill="#ffac00"/>
<rect x="583" y="231" width="13" height="11" fill="#ffc000"/>
<rect x="596" y="231" width="12" height="11" fill="#ffff00"/>
<rect x="608" y="231" width="12" height="11" fill="#ffc000"/>
<rect x="620" y="231" width="13" height="11" fill="#ffd400"/>
<rect x="633" y="231" width="25" height="11" fill="#ffe800"/>
<rect x="658" y="231" width="25" height="11" fill="#ffff00"/>
<rect x="683" y="231" width="25" height="11" fill="#ffe800"/>
<rect x="708" y="231" width="24" height="11" fill="#ffd400"/>
<rect x="732" y="231" width="13" height="11" fill="#ffe800"/>
<rect x="745" y="231" width="12" height="11" fill="#ffffff"/>
<rect x="100" y="242" width="10" height="10" fill="#ffff00"/>
<rect x="110" y="242" width="12" height="10" fill="#ffe800"/>
<rect x="122" y="242" width="13" height="10" fill="#ffff00"/>
<rect x="135" y="242" width="25" height="10" fill="#ffe800"/>
<rect x="160" y="242" width="12" height="10" fill="#ffff00"/>
<rect x="172" y="242" width="25" height="10" fill="#ffe800"/>
<rect x="197" y="242" width="13" height="10" fill="#ffffff"/>
<rect x="210" y="242" width="12" height="10" fill="#ffd400"/>
<rect x="222" y="242" width="12" height="10" fill="#ffe800"/>
<rect x="234" y="242" width="13" height="10" fill="#ffd400"/>
<rect x="247" y="242" width="12" height="10" fill="#ffe800"/>
<rect x="259" y="242" width="50" height="10" fill="#ffc000"/>
<rect x="309" y="242" width="13" height="10" fill="#ffac00"/>
<rect x="322" y="242" width="25" height="10" fill="#ff9600"/>
<rect x="347" y="242" width="12" height="10" fill="#ffac00"/>
<rect x="359" y="242" width="25" height="10" fill="#ff8000"/>
<rect x="384" y="242" width="25" height="10" fill="#ff6700"/>
<rect x="409" y="242" width="25" height="10" fill="#fa4800"/>
<rect x="434" y="242" width="37" height="10" fill="#f02000"/>
<rect x="471" y="242" width="12" height="10" fill="#fa4800"/>
<rect x="483" y="242" width="13" height="10" fill="#ff6700"/>
<rect x="496" y="242" width="12" height="10" fill="#ff8000"/>
<rect x="508" y="242" width="13" height="10" fill="#ff9600"/>
<rect x="521" y="242" width="37" height="10" fill="#ffac00"/>
<rect x="558" y="242" width="25" height="10" fill="#ffc000"/>
<rect x="583" y="242" width="13" height="10" fill="#ffe800"/>
<rect x="596" y="242" width="12" height="10" fill="#ffd400"/>
<rect x="608" y="242" width="50" height="10" fill="#ffe800"/>
<rect x="658" y="242" width="12" height="10" fill="#ffd400"/>
<rect x="670" y="242" width="13" height="10" fill="#ffff00"/>
<rect x="683" y="242" width="12" height="10" fill="#ffd400"/>
<rect x="695" y="242" width="13" height="10" fill="#ffe800"/>
<rect x="708" y="242" width="12" height="10" fill="#ffd400"/>
<rect x="720" y="242" width="12" height="10" fill="#ffe800"/>
<rect x="732" y="242" width="13" height="10" fill="#ffffff"/>
<rect x="745" y="242" width="12" height="10" fill="#ffff00"/>
<rect x="100" y="252" width="10" height="11" fill="#ffe800"/>
<rect x="110" y="252" width="12" height="11" fill="#ffff00"/>
<rect x="122" y="252" width="13" height="11" fill="#ffc000"/>
<rect x="135" y="252" width="25" height="11" fill="#ffff00"/>
<rect x="160" y="252" width="25" height="11" fill="#ffe800"/>
<rect x="185" y="252" width="12" height="11" fill="#ffff00"/>
<rect x="197" y="252" width="13" height="11" fill="#ffc000"/>
<rect x="210" y="252" width="12" height="11" fill="#ffd400"/>
<rect x="222" y="252" width="25" height="11" fill="#ffff00"/>
<rect x="247" y="252" width="12" height="11" fill="#ffc000"/>
<rect x="259" y="252" width="25" height="11" fill="#ffd400"/>
<rect x="284" y="252" width="13" height="11" fill="#ffc000"/>
<rect x="297" y="252" width="50" height="11" fill="#ffac00"/>
<rect x="347" y="252" width="12" height="11" fill="#ff9600"/>
<rect x="359" y="252" width="12" height="11" fill="#ff8000"/>
<rect x="371" y="252" width="13" height="11" fill="#ff6700"/>
<rect x="384" y="252" width="12" height="11" fill="#fa4800"/>
<rect x="396" y="252" width="25" height="11" fill="#f02000"/>
<rect x="421" y="252" width="38" height="11" fill="#dc0f00"/>
<rect x="459" y="252" width="24" height="11" fill="#f02000"/>
<rect x="483" y="252" width="13" height="11" fill="#fa4800"/>
<rect x="496" y="252" width="12" height="11" fill="#ff6700"/>
<rect x="508" y="252" width="38" height="11" fill="#ff9600"/>
<rect x="546" y="252" width="74" height="11" fill="#ffc000"/>
<rect x="620" y="252" width="13" height="11" fill="#ffd400"/>
<rect x="633" y="252" width="12" height="11" fill="#ffc000"/>
<rect x="645" y="252" width="13" height="11" fill="#ffff00"/>
<rect x="658" y="252" width="25" height="11" fill="#ffd400"/>
<rect x="683" y="252" width="12" height="11" fill="#ffc000"/>
<rect x="695" y="252" width="50" height="11" fill="#ffffff"/>
<rect x="745" y="252" width="12" height="11" fill="#ffff00"/>
<rect x="100" y="263" width="47" height="11" fill="#ffe800"/>
<rect x="147" y="263" width="13" height="11" fill="#ffff00"/>
<rect x="160" y="263" width="12" height="11" fill="#ffffff"/>
<rect x="172" y="263" width="13" height="11" fill="#ffff00"/>
<rect x="185" y="263" width="12" height="11" fill="#ffe800"/>
<rect x="197" y="263" width="25" height="11" fill="#ffd400"/>
<rect x="222" y="263" width="25" height="11" fill="#ffe800"/>
<rect x="247" y="263" width="37" height="11" fill="#ffd400"/>
<rect x="284" y="263" width="13" height="11" fill="#ffac00"/>
<rect x="297" y="263" width="12" height="11" fill="#ffc000"/>
<rect x="309" y="263" width="13" height="11" fill="#ffac00"/>
<rect x="322" y="263" width="12" height="11" fill="#ffc000"/>
<rect x="334" y="263" width="25" height="11" fill="#ff9600"/>
<rect x="359" y="263" width="12" height="11" fill="#ff8000"/>
<rect x="371" y="263" width="13" height="11" fill="#fa4800"/>
<rect x="384" y="263" width="12" height="11" fill="#f02000"/>
<rect x="396" y="263" width="13" height="11" fill="#dc0f00"/>
<rect x="409" y="263" width="12" height="11" fill="#ad0000"/>
<rect x="421" y="263" width="13" height="11" fill="#960000"/>
<rect x="434" y="263" width="12" height="11" fill="#ad0000"/>
<rect x="446" y="263" width="13" height="11" fill="#c40600"/>
<rect x="459" y="263" width="12" height="11" fill="#dc0f00"/>
<rect x="471" y="263" width="25" height="11" fill="#f02000"/>
<rect x="496" y="263" width="12" height="11" fill="#ff6700"/>
<rect x="508" y="263" width="25" height="11" fill="#ff8000"/>
<rect x="533" y="263" width="25" height="11" fill="#ffac00"/>
<rect x="558" y="263" width="38" height="11" fill="#ffc000"/>
<rect x="596" y="263" width="37" height="11" fill="#ffe800"/>
<rect x="633" y="263" width="12" height="11" fill="#ffd400"/>
<rect x="645" y="263" width="13" height="11" fill="#ffc000"/>
<rect x="658" y="263" width="12" height="11" fill="#ffe800"/>
<rect x="670" y="263" width="13" height="11" fill="#ffff00"/>
<rect x="683" y="263" width="12" height="11" fill="#ffe800"/>
<rect x="695" y="263" width="13" height="11" fill="#ffff00"/>
<rect x="708" y="263" width="37" height="11" fill="#ffffff"/>
<rect x="745" y="263" width="12" height="11" fill="#ffff00"/>
<rect x="100" y="274" width="22" height="11" fill="#ffff00"/>
<rect x="122" y="274" width="13" height="11" fill="#ffe800"/>
<rect x="135" y="274" width="12" height="11" fill="#ffff00"/>
<rect x="147" y="274" width="13" height="11" fill="#ffffff"/>
<rect x="160" y="274" width="12" height="11" fill="#ffe800"/>
<rect x="172" y="274" width="13" height="11" fill="#ffffff"/>
<rect x="185" y="274" width="12" height="11" fill="#ffe800"/>
<rect x="197" y="274" width="13" height="11" fill="#ffff00"/>
<rect x="210" y="274" width="24" height="11" fill="#ffd400"/>
<rect x="234" y="274" width="13" height="11" fill="#ffc000"/>
<rect x="247" y="274" width="12" height="11" fill="#ffe800"/>
<rect x="259" y="274" width="50" height="11" fill="#ffc000"/>
<rect x="309" y="274" width="13" height="11" fill="#ffac00"/>
<rect x="322" y="274" width="37" height="11" fill="#ff9600"/>
<rect x="359" y="274" width="12" height="11" fill="#ff8000"/>
<rect x="371" y="274" width="13" height="11" fill="#fa4800"/>
<rect x="384" y="274" width="12" height="11" fill="#f02000"/>
<rect x="396" y="274" width="13" height="11" fill="#c40600"/>
<rect x="409" y="274" width="12" height="11" fill="#960000"/>
<rect x="421" y="274" width="13" height="11" fill="#440000"/>
<rect x="434" y="274" width="12" height="11" fill="#550000"/>
<rect x="446" y="274" width="13" height="11" fill="#ad0000"/>
<rect x="459" y="274" width="12" height="11" fill="#dc0f00"/>
<rect x="471" y="274" width="25" height="11" fill="#f02000"/>
<rect x="496" y="274" width="12" height="11" fill="#fa4800"/>
<rect x="508" y="274" width="13" height="11" fill="#ff6700"/>
<rect x="521" y="274" width="12" height="11" fill="#ff8000"/>
<rect x="533" y="274" width="13" height="11" fill="#ff9600"/>
<rect x="546" y="274" width="25" height="11" fill="#ffac00"/>
<rect x="571" y="274" width="49" height="11" fill="#ffc000"/>
<rect x="620" y="274" width="13" height="11" fill="#ffd400"/>
<rect x="633" y="274" width="12" height="11" fill="#ffe800"/>
<rect x="645" y="274" width="13" height="11" fill="#ffff00"/>
<rect x="658" y="274" width="37" height="11" fill="#ffe800"/>
<rect x="695" y="274" width="13" height="11" fill="#ffff00"/>
<rect x="708" y="274" width="12" height="11" fill="#ffe800"/>
<rect x="720" y="274" width="25" height="11" fill="#ffff00"/>
<rect x="745" y="274" width="20" height="11" fill="#ffffff"/>
<rect x="100" y="285" width="10" height="10" fill="#ffff00"/>
<rect x="110" y="285" width="25" height="10" fill="#ffe800"/>
<rect x="135" y="285" width="12" height="10" fill="#ffff00"/>
<rect x="147" y="285" width="13" height="10" fill="#ffd400"/>
<rect x="160" y="285" width="25" height="10" fill="#ffe800"/>
<rect x="185" y="285" width="12" height="10" fill="#ffff00"/>
<rect x="197" y="285" width="13" height="10" fill="#ffe800"/>
<rect x="210" y="285" width="12" height="10" fill="#ffc000"/>
<rect x="222" y="285" width="12" height="10" fill="#ffd400"/>
<rect x="234" y="285" width="25" height="10" fill="#ffe800"/>
<rect x="259" y="285" width="13" height="10" fill="#ffd400"/>
<rect x="272" y="285" width="50" height="10" fill="#ffc000"/>
<rect x="322" y="285" width="37" height="10" fill="#ff9600"/>
<rect x="359" y="285" width="12" height="10" fill="#ff8000"/>
<rect x="371" y="285" width="13" height="10" fill="#fa4800"/>
<rect x="384" y="285" width="12" height="10" fill="#f02000"/>
<rect x="396" y="285" width="13" height="10" fill="#c40600"/>
<rect x="409" y="285" width="12" height="10" fill="#960000"/>
<rect x="421" y="285" width="13" height="10" fill="#550000"/>
<rect x="434" y="285" width="12" height="10" fill="#690000"/>
<rect x="446" y="285" width="13" height="10" fill="#ad0000"/>
<rect x="459" y="285" width="12" height="10" fill="#dc0f00"/>
<rect x="471" y="285" width="12" height="10" fill="#f02000"/>
<rect x="483" y="285" width="38" height="10" fill="#fa4800"/>
<rect x="521" y="285" width="12" height="10" fill="#ff8000"/>
<rect x="533" y="285" width="25" height="10" fill="#ff9600"/>
<rect x="558" y="285" width="13" height="10" fill="#ffac00"/>
<rect x="571" y="285" width="12" height="10" fill="#ffc000"/>
<rect x="583" y="285" width="25" height="10" fill="#ffd400"/>
<rect x="608" y="285" width="12" height="10" fill="#ffc000"/>
<rect x="620" y="285" width="13" height="10" fill="#ffe800"/>
<rect x="633" y="285" width="12" height="10" fill="#ffd400"/>
<rect x="645" y="285" width="13" height="10" fill="#ffff00"/>
<rect x="658" y="285" width="12" height="10" fill="#ffd400"/>
<rect x="670" y="285" width="13" height="10" fill="#ffe800"/>
<rect x="683" y="285" width="12" height="10" fill="#ffffff"/>
<rect x="695" y="285" width="13" height="10" fill="#ffe800"/>
<rect x="708" y="285" width="12" height="10" fill="#ffff00"/>
<rect x="720" y="285" width="12" height="10" fill="#ffe800"/>
<rect x="732" y="285" width="25" height="10" fill="#ffff00"/>
<rect x="757" y="285" width="8" height="10" fill="#ffffff"/>
<rect x="100" y="295" width="22" height="11" fill="#ffffff"/>
<rect x="122" y="295" width="13" height="11" fill="#ffe800"/>
<rect x="135" y="295" width="12" height="11" fill="#ffff00"/>
<rect x="147" y="295" width="38" height="11" fill="#ffe800"/>
<rect x="185" y="295" width="12" height="11" fill="#ffd400"/>
<rect x="197" y="295" width="13" height="11" fill="#ffc000"/>
<rect x="210" y="295" width="12" height="11" fill="#ffe800"/>
<rect x="222" y="295" width="12" height="11" fill="#ffffff"/>
<rect x="234" y="295" width="13" height="11" fill="#ffe800"/>
<rect x="247" y="295" width="12" height="11" fill="#ffc000"/>
<rect x="259" y="295" width="13" height="11" fill="#ffe800"/>
<rect x="272" y="295" width="25" height="11" fill="#ffc000"/>
<rect x="297" y="295" width="12" height="11" fill="#ffac00"/>
<rect x="309" y="295" width="13" height="11" fill="#ffc000"/>
<rect x="322" y="295" width="25" height="11" fill="#ff9600"/>
<rect x="347" y="295" width="24" height="11" fill="#ff8000"/>
<rect x="371" y="295" width="13" height="11" fill="#ff6700"/>
<rect x="384" y="295" width="12" height="11" fill="#f02000"/>
<rect x="396" y="295" width="13" height="11" fill="#dc0f00"/>
<rect x="409" y="295" width="12" height="11" fill="#c40600"/>
<rect x="421" y="295" width="13" height="11" fill="#ad0000"/>
<rect x="434" y="295" width="25" height="11" fill="#c40600"/>
<rect x="459" y="295" width="12" height="11" fill="#f02000"/>
<rect x="471" y="295" width="12" height="11" fill="#fa4800"/>
<rect x="483" y="295" width="13" height="11" fill="#ff6700"/>
<rect x="496" y="295" width="25" height="11" fill="#fa4800"/>
<rect x="521" y="295" width="12" height="11" fill="#ff6700"/>
<rect x="533" y="295" width="38" height="11" fill="#ff9600"/>
<rect x="571" y="295" width="12" height="11" fill="#ffac00"/>
<rect x="583" y="295" width="37" height="11" fill="#ffc000"/>
<rect x="620" y="295" width="13" height="11" fill="#ffd400"/>
<rect x="633" y="295" width="12" height="11" fill="#ffe800"/>
<rect x="645" y="295" width="13" height="11" fill="#ffff00"/>
<rect x="658" y="295" width="12" height="11" fill="#ffe800"/>
<rect x="670" y="295" width="13" height="11" fill="#ffff00"/>
<rect x="683" y="295" width="12" height="11" fill="#ffe800"/>
<rect x="695" y="295" width="13" height="11" fill="#ffffff"/>
<rect x="708" y="295" width="12" height="11" fill="#ffe800"/>
<rect x="720" y="295" width="12" height="11" fill="#ffff00"/>
<rect x="732" y="295" width="13" height="11" fill="#ffe800"/>
<rect x="745" y="295" width="12" height="11" fill="#ffff00"/>
<rect x="100" y="306" width="22" height="11" fill="#ffe800"/>
<rect x="122" y="306" width="13" height="11" fill="#ffffff"/>
<rect x="135" y="306" width="25" height="11" fill="#ffff00"/>
<rect x="160" y="306" width="12" height="11" fill="#ffffff"/>
<rect x="172" y="306" width="25" height="11" fill="#ffff00"/>
<rect x="197" y="306" width="50" height="11" fill="#ffe800"/>
<rect x="247" y="306" width="12" height="11" fill="#ffd400"/>
<rect x="259" y="306" width="25" height="11" fill="#ffe800"/>
<rect x="284" y="306" width="13" height="11" fill="#ffc000"/>
<rect x="297" y="306" width="12" height="11" fill="#ffd400"/>
<rect x="309" y="306" width="13" height="11" fill="#ffac00"/>
<rect x="322" y="306" width="37" height="11" fill="#ff9600"/>
<rect x="359" y="306" width="25" height="11" fill="#ff8000"/>
<rect x="384" y="306" width="12" height="11" fill="#ff6700"/>
<rect x="396" y="306" width="13" height="11" fill="#fa4800"/>
<rect x="409" y="306" width="50" height="11" fill="#f02000"/>
<rect x="459" y="306" width="12" height="11" fill="#fa4800"/>
<rect x="471" y="306" width="75" height="11" fill="#ff6700"/>
<rect x="546" y="306" width="12" height="11" fill="#ff9600"/>
<rect x="558" y="306" width="25" height="11" fill="#ffac00"/>
<rect x="583" y="306" width="25" height="11" fill="#ffc000"/>
<rect x="608" y="306" width="12" height="11" fill="#ffe800"/>
<rect x="620" y="306" width="13" height="11" fill="#ffd400"/>
<rect x="633" y="306" width="37" height="11" fill="#ffe800"/>
<rect x="670" y="306" width="25" height="11" fill="#ffff00"/>
<rect x="695" y="306" width="13" height="11" fill="#ffd400"/>
<rect x="708" y="306" width="12" height="11" fill="#ffffff"/>
<rect x="720" y="306" width="12" height="11" fill="#ffff00"/>
<rect x="732" y="306" width="13" height="11" fill="#ffe800"/>
<rect x="745" y="306" width="12" height="11" fill="#ffffff"/>
<rect x="100" y="317" width="22" height="11" fill="#ffffff"/>
<rect x="122" y="317" width="13" height="11" fill="#ffff00"/>
<rect x="135" y="317" width="25" height="11" fill="#ffffff"/>
<rect x="160" y="317" width="25" height="11" fill="#ffff00"/>
<rect x="185" y="317" width="25" height="11" fill="#ffe800"/>
<rect x="210" y="317" width="24" height="11" fill="#ffff00"/>
<rect x="234" y="317" width="25" height="11" fill="#ffe800"/>
<rect x="259" y="317" width="13" height="11" fill="#ffd400"/>
<rect x="272" y="317" width="12" height="11" fill="#ffc000"/>
<rect x="284" y="317" width="13" height="11" fill="#ffd400"/>
<rect x="297" y="317" width="37" height="11" fill="#ffc000"/>
<rect x="334" y="317" width="13" height="11" fill="#ffac00"/>
<rect x="347" y="317" width="12" height="11" fill="#ff9600"/>
<rect x="359" y="317" width="37" height="11" fill="#ff8000"/>
<rect x="396" y="317" width="25" height="11" fill="#ff6700"/>
<rect x="421" y="317" width="13" height="11" fill="#fa4800"/>
<rect x="434" y="317" width="37" height="11" fill="#ff6700"/>
<rect x="471" y="317" width="12" height="11" fill="#ff8000"/>
<rect x="483" y="317" width="25" height="11" fill="#ff9600"/>
<rect x="508" y="317" width="13" height="11" fill="#ff8000"/>
<rect x="521" y="317" width="37" height="11" fill="#ff6700"/>
<rect x="558" y="317" width="25" height="11" fill="#ff9600"/>
<rect x="583" y="317" width="13" height="11" fill="#ffac00"/>
<rect x="596" y="317" width="12" height="11" fill="#ffc000"/>
<rect x="608" y="317" width="25" height="11" fill="#ffd400"/>
<rect x="633" y="317" width="25" height="11" fill="#ffe800"/>
<rect x="658" y="317" width="12" height="11" fill="#ffc000"/>
<rect x="670" y="317" width="13" height="11" fill="#ffd400"/>
<rect x="683" y="317" width="12" height="11" fill="#ffe800"/>
<rect x="695" y="317" width="62" height="11" fill="#ffffff"/>
<rect x="110" y="328" width="12" height="10" fill="#ffff00"/>
<rect x="122" y="328" width="38" height="10" fill="#ffffff"/>
<rect x="160" y="328" width="25" height="10" fill="#ffff00"/>
<rect x="185" y="328" width="25" height="10" fill="#ffe800"/>
<rect x="210" y="328" width="12" height="10" fill="#ffff00"/>
<rect x="222" y="328" width="25" height="10" fill="#ffd400"/>
<rect x="247" y="328" width="12" height="10" fill="#ffe800"/>
<rect x="259" y="328" width="38" height="10" fill="#ffc000"/>
<rect x="297" y="328" width="12" height="10" fill="#ffd400"/>
<rect x="309" y="328" width="25" height="10" fill="#ffc000"/>
<rect x="334" y="328" width="25" height="10" fill="#ffac00"/>
<rect x="359" y="328" width="12" height="10" fill="#ff9600"/>
<rect x="371" y="328" width="13" height="10" fill="#ffac00"/>
<rect x="384" y="328" width="12" height="10" fill="#ff9600"/>
<rect x="396" y="328" width="25" height="10" fill="#ff8000"/>
<rect x="421" y="328" width="13" height="10" fill="#ff6700"/>
<rect x="434" y="328" width="37" height="10" fill="#ff8000"/>
<rect x="471" y="328" width="50" height="10" fill="#ff9600"/>
<rect x="521" y="328" width="12" height="10" fill="#ff8000"/>
<rect x="533" y="328" width="25" height="10" fill="#ff6700"/>
<rect x="558" y="328" width="13" height="10" fill="#ff8000"/>
<rect x="571" y="328" width="25" height="10" fill="#ffac00"/>
<rect x="596" y="328" width="12" height="10" fill="#ffc000"/>
<rect x="608" y="328" width="12" height="10" fill="#ffac00"/>
<rect x="620" y="328" width="25" height="10" fill="#ffd400"/>
<rect x="645" y="328" width="13" height="10" fill="#ffe800"/>
<rect x="658" y="328" width="25" height="10" fill="#ffd400"/>
<rect x="683" y="328" width="12" height="10" fill="#ffe800"/>
<rect x="695" y="328" width="13" height="10" fill="#ffff00"/>
<rect x="708" y="328" width="12" height="10" fill="#ffffff"/>
<rect x="720" y="328" width="25" height="10" fill="#ffe800"/>
<rect x="745" y="328" width="12" height="10" fill="#ffffff"/>
<rect x="110" y="338" width="12" height="11" fill="#ffff00"/>
<rect x="122" y="338" width="13" height="11" fill="#ffffff"/>
<rect x="135" y="338" width="25" height="11" fill="#ffff00"/>
<rect x="160" y="338" width="12" height="11" fill="#ffffff"/>
<rect x="172" y="338" width="13" height="11" fill="#ffff00"/>
<rect x="185" y="338" width="25" height="11" fill="#ffe800"/>
<rect x="210" y="338" width="12" height="11" fill="#ffd400"/>
<rect x="222" y="338" width="12" height="11" fill="#ffe800"/>
<rect x="234" y="338" width="13" height="11" fill="#ffffff"/>
<rect x="247" y="338" width="12" height="11" fill="#ffe800"/>
<rect x="259" y="338" width="50" height="11" fill="#ffd400"/>
<rect x="309" y="338" width="13" height="11" fill="#ffc000"/>
<rect x="322" y="338" width="12" height="11" fill="#ffd400"/>
<rect x="334" y="338" width="25" height="11" fill="#ffc000"/>
<rect x="359" y="338" width="12" height="11" fill="#ff9600"/>
<rect x="371" y="338" width="13" height="11" fill="#ffac00"/>
<rect x="384" y="338" width="50" height="11" fill="#ff9600"/>
<rect x="434" y="338" width="12" height="11" fill="#ff8000"/>
<rect x="446" y="338" width="13" height="11" fill="#ff9600"/>
<rect x="459" y="338" width="12" height="11" fill="#ff8000"/>
<rect x="471" y="338" width="12" height="11" fill="#ffac00"/>
<rect x="483" y="338" width="25" height="11" fill="#ff9600"/>
<rect x="508" y="338" width="13" height="11" fill="#ffac00"/>
<rect x="521" y="338" width="12" height="11" fill="#ff9600"/>
<rect x="533" y="338" width="13" height="11" fill="#ff8000"/>
<rect x="546" y="338" width="25" height="11" fill="#ff6700"/>
<rect x="571" y="338" width="12" height="11" fill="#ff8000"/>
<rect x="583" y="338" width="13" height="11" fill="#ff9600"/>
<rect x="596" y="338" width="12" height="11" fill="#ffc000"/>
<rect x="608" y="338" width="62" height="11" fill="#ffd400"/>
<rect x="670" y="338" width="38" height="11" fill="#ffe800"/>
<rect x="708" y="338" width="49" height="11" fill="#ffffff"/>
<rect x="110" y="349" width="12" height="11" fill="#ffff00"/>
<rect x="122" y="349" width="13" height="11" fill="#ffe800"/>
<rect x="135" y="349" width="12" height="11" fill="#ffffff"/>
<rect x="147" y="349" width="13" height="11" fill="#ffe800"/>
<rect x="160" y="349" width="37" height="11" fill="#ffffff"/>
<rect x="197" y="349" width="37" height="11" fill="#ffe800"/>
<rect x="234" y="349" width="13" height="11" fill="#ffd400"/>
<rect x="247" y="349" width="25" height="11" fill="#ffe800"/>
<rect x="272" y="349" width="12" height="11" fill="#ffd400"/>
<rect x="284" y="349" width="13" height="11" fill="#ffff00"/>
<rect x="297" y="349" width="12" height="11" fill="#ffe800"/>
<rect x="309" y="349" width="13" height="11" fill="#ffd400"/>
<rect x="322" y="349" width="12" height="11" fill="#ffc000"/>
<rect x="334" y="349" width="13" height="11" fill="#ffe800"/>
<rect x="347" y="349" width="12" height="11" fill="#ffc000"/>
<rect x="359" y="349" width="12" height="11" fill="#ffac00"/>
<rect x="371" y="349" width="13" height="11" fill="#ffc000"/>
<rect x="384" y="349" width="25" height="11" fill="#ffac00"/>
<rect x="409" y="349" width="25" height="11" fill="#ff9600"/>
<rect x="434" y="349" width="112" height="11" fill="#ffac00"/>
<rect x="546" y="349" width="12" height="11" fill="#ff9600"/>
<rect x="558" y="349" width="25" height="11" fill="#ff6700"/>
<rect x="583" y="349" width="13" height="11" fill="#ff8000"/>
<rect x="596" y="349" width="12" height="11" fill="#ffac00"/>
<rect x="608" y="349" width="37" height="11" fill="#ffc000"/>
<rect x="645" y="349" width="13" height="11" fill="#ffe800"/>
<rect x="658" y="349" width="25" height="11" fill="#ffd400"/>
<rect x="683" y="349" width="25" height="11" fill="#ffe800"/>
<rect x="708" y="349" width="12" height="11" fill="#ffffff"/>
<rect x="720" y="349" width="25" height="11" fill="#ffff00"/>
<rect x="122" y="360" width="13" height="11" fill="#ffffff"/>
<rect x="135" y="360" width="12" height="11" fill="#ffe800"/>
<rect x="147" y="360" width="13" height="11" fill="#ffffff"/>
<rect x="160" y="360" width="12" height="11" fill="#ffe800"/>
<rect x="172" y="360" width="13" height="11" fill="#ffffff"/>
<rect x="185" y="360" width="49" height="11" fill="#ffff00"/>
<rect x="234" y="360" width="25" height="11" fill="#ffe800"/>
<rect x="259" y="360" width="13" height="11" fill="#ffd400"/>
<rect x="272" y="360" width="37" height="11" fill="#ffe800"/>
<rect x="309" y="360" width="62" height="11" fill="#ffc000"/>
<rect x="371" y="360" width="13" height="11" fill="#ffe800"/>
<rect x="384" y="360" width="12" height="11" fill="#ffc000"/>
<rect x="396" y="360" width="13" height="11" fill="#ffac00"/>
<rect x="409" y="360" width="12" height="11" fill="#ffc000"/>
<rect x="421" y="360" width="25" height="11" fill="#ffac00"/>
<rect x="446" y="360" width="25" height="11" fill="#ffc000"/>
<rect x="471" y="360" width="37" height="11" fill="#ffac00"/>
<rect x="508" y="360" width="13" height="11" fill="#ffd400"/>
<rect x="521" y="360" width="37" height="11" fill="#ffac00"/>
<rect x="558" y="360" width="13" height="11" fill="#ff9600"/>
<rect x="571" y="360" width="25" height="11" fill="#ff8000"/>
<rect x="596" y="360" width="12" height="11" fill="#ff9600"/>
<rect x="608" y="360" width="25" height="11" fill="#ffc000"/>
<rect x="633" y="360" width="50" height="11" fill="#ffd400"/>
<rect x="683" y="360" width="12" height="11" fill="#ffe800"/>
<rect x="695" y="360" width="13" height="11" fill="#ffffff"/>
<rect x="708" y="360" width="12" height="11" fill="#ffe800"/>
<rect x="720" y="360" width="12" height="11" fill="#ffffff"/>
<rect x="732" y="360" width="13" height="11" fill="#ffe800"/>
<rect x="122" y="371" width="25" height="10" fill="#ffffff"/>
<rect x="147" y="371" width="38" height="10" fill="#ffff00"/>
<rect x="185" y="371" width="12" height="10" fill="#ffe800"/>
<rect x="197" y="371" width="13" height="10" fill="#ffffff"/>
<rect x="210" y="371" width="12" height="10" fill="#ffff00"/>
<rect x="222" y="371" width="12" height="10" fill="#ffe800"/>
<rect x="234" y="371" width="13" height="10" fill="#ffd400"/>
<rect x="247" y="371" width="12" height="10" fill="#ffff00"/>
<rect x="259" y="371" width="25" height="10" fill="#ffc000"/>
<rect x="284" y="371" width="25" height="10" fill="#ffe800"/>
<rect x="309" y="371" width="13" height="10" fill="#ffd400"/>
<rect x="322" y="371" width="87" height="10" fill="#ffc000"/>
<rect x="409" y="371" width="12" height="10" fill="#ffd400"/>
<rect x="421" y="371" width="13" height="10" fill="#ffc000"/>
<rect x="434" y="371" width="12" height="10" fill="#ffac00"/>
<rect x="446" y="371" width="75" height="10" fill="#ffc000"/>
<rect x="521" y="371" width="12" height="10" fill="#ffd400"/>
<rect x="533" y="371" width="13" height="10" fill="#ffc000"/>
<rect x="546" y="371" width="12" height="10" fill="#ffac00"/>
<rect x="558" y="371" width="13" height="10" fill="#ff9600"/>
<rect x="571" y="371" width="12" height="10" fill="#ffac00"/>
<rect x="583" y="371" width="25" height="10" fill="#ff8000"/>
<rect x="608" y="371" width="12" height="10" fill="#ffac00"/>
<rect x="620" y="371" width="13" height="10" fill="#ffc000"/>
<rect x="633" y="371" width="37" height="10" fill="#ffd400"/>
<rect x="670" y="371" width="13" height="10" fill="#ffe800"/>
<rect x="683" y="371" width="12" height="10" fill="#ffd400"/>
<rect x="695" y="371" width="13" height="10" fill="#ffff00"/>
<rect x="708" y="371" width="12" height="10" fill="#ffffff"/>
<rect x="720" y="371" width="12" height="10" fill="#ffd400"/>
<rect x="135" y="381" width="12" height="11" fill="#ffffff"/>
<rect x="147" y="381" width="13" height="11" fill="#ffd400"/>
<rect x="160" y="381" width="12" height="11" fill="#ffff00"/>
<rect x="172" y="381" width="13" height="11" fill="#ffd400"/>
<rect x="185" y="381" width="12" height="11" fill="#ffff00"/>
<rect x="197" y="381" width="13" height="11" fill="#ffffff"/>
<rect x="210" y="381" width="12" height="11" fill="#ffe800"/>
<rect x="222" y="381" width="37" height="11" fill="#ffff00"/>
<rect x="259" y="381" width="13" height="11" fill="#ffe800"/>
<rect x="272" y="381" width="25" height="11" fill="#ffff00"/>
<rect x="297" y="381" width="25" height="11" fill="#ffe800"/>
<rect x="322" y="381" width="12" height="11" fill="#ffc000"/>
<rect x="334" y="381" width="13" height="11" fill="#ffd400"/>
<rect x="347" y="381" width="62" height="11" fill="#ffc000"/>
<rect x="409" y="381" width="12" height="11" fill="#ffac00"/>
<rect x="421" y="381" width="13" height="11" fill="#ffd400"/>
<rect x="434" y="381" width="12" height="11" fill="#ffe800"/>
<rect x="446" y="381" width="13" height="11" fill="#ffd400"/>
<rect x="459" y="381" width="12" height="11" fill="#ffc000"/>
<rect x="471" y="381" width="25" height="11" fill="#ffd400"/>
<rect x="496" y="381" width="12" height="11" fill="#ffc000"/>
<rect x="508" y="381" width="13" height="11" fill="#ffd400"/>
<rect x="521" y="381" width="25" height="11" fill="#ffc000"/>
<rect x="546" y="381" width="37" height="11" fill="#ffac00"/>
<rect x="583" y="381" width="13" height="11" fill="#ff9600"/>
<rect x="596" y="381" width="12" height="11" fill="#ff8000"/>
<rect x="608" y="381" width="12" height="11" fill="#ffac00"/>
<rect x="620" y="381" width="13" height="11" fill="#ffc000"/>
<rect x="633" y="381" width="12" height="11" fill="#ffe800"/>
<rect x="645" y="381" width="13" height="11" fill="#ffd400"/>
<rect x="658" y="381" width="12" height="11" fill="#ffe800"/>
<rect x="670" y="381" width="13" height="11" fill="#ffff00"/>
<rect x="683" y="381" width="49" height="11" fill="#ffffff"/>
<rect x="135" y="392" width="25" height="11" fill="#ffff00"/>
<rect x="160" y="392" width="37" height="11" fill="#ffe800"/>
<rect x="197" y="392" width="13" height="11" fill="#ffd400"/>
<rect x="210" y="392" width="37" height="11" fill="#ffff00"/>
<rect x="247" y="392" width="12" height="11" fill="#ffe800"/>
<rect x="259" y="392" width="13" height="11" fill="#ffff00"/>
<rect x="272" y="392" width="12" height="11" fill="#ffffff"/>
<rect x="284" y="392" width="13" height="11" fill="#ffff00"/>
<rect x="297" y="392" width="12" height="11" fill="#ffffff"/>
<rect x="309" y="392" width="13" height="11" fill="#ffe800"/>
<rect x="322" y="392" width="12" height="11" fill="#ffc000"/>
<rect x="334" y="392" width="13" height="11" fill="#ffe800"/>
<rect x="347" y="392" width="12" height="11" fill="#ffac00"/>
<rect x="359" y="392" width="12" height="11" fill="#ffe800"/>
<rect x="371" y="392" width="13" height="11" fill="#ffd400"/>
<rect x="384" y="392" width="12" height="11" fill="#ffc000"/>
<rect x="396" y="392" width="13" height="11" fill="#ffd400"/>
<rect x="409" y="392" width="12" height="11" fill="#ffe800"/>
<rect x="421" y="392" width="13" height="11" fill="#ffd400"/>
<rect x="434" y="392" width="25" height="11" fill="#ffc000"/>
<rect x="459" y="392" width="12" height="11" fill="#ffd400"/>
<rect x="471" y="392" width="12" height="11" fill="#ffe800"/>
<rect x="483" y="392" width="13" height="11" fill="#ffd400"/>
<rect x="496" y="392" width="12" height="11" fill="#ffc000"/>
<rect x="508" y="392" width="13" height="11" fill="#ffe800"/>
<rect x="521" y="392" width="25" height="11" fill="#ffc000"/>
<rect x="546" y="392" width="12" height="11" fill="#ffd400"/>
<rect x="558" y="392" width="13" height="11" fill="#ffc000"/>
<rect x="571" y="392" width="12" height="11" fill="#ffac00"/>
<rect x="583" y="392" width="13" height="11" fill="#ffc000"/>
<rect x="596" y="392" width="12" height="11" fill="#ff9600"/>
<rect x="608" y="392" width="12" height="11" fill="#ff8000"/>
<rect x="620" y="392" width="13" height="11" fill="#ff9600"/>
<rect x="633" y="392" width="25" height="11" fill="#ffc000"/>
<rect x="658" y="392" width="12" height="11" fill="#ffe800"/>
<rect x="670" y="392" width="13" height="11" fill="#ffd400"/>
<rect x="683" y="392" width="25" height="11" fill="#ffe800"/>
<rect x="708" y="392" width="12" height="11" fill="#ffff00"/>
<rect x="147" y="403" width="13" height="11" fill="#ffe800"/>
<rect x="160" y="403" width="12" height="11" fill="#ffffff"/>
<rect x="172" y="403" width="25" height="11" fill="#ffff00"/>
<rect x="197" y="403" width="13" height="11" fill="#ffe800"/>
<rect x="210" y="403" width="12" height="11" fill="#ffff00"/>
<rect x="222" y="403" width="12" height="11" fill="#ffd400"/>
<rect x="234" y="403" width="13" height="11" fill="#ffe800"/>
<rect x="247" y="403" width="37" height="11" fill="#ffff00"/>
<rect x="284" y="403" width="25" height="11" fill="#ffe800"/>
<rect x="309" y="403" width="13" height="11" fill="#ffd400"/>
<rect x="322" y="403" width="25" height="11" fill="#ffe800"/>
<rect x="347" y="403" width="12" height="11" fill="#ffffff"/>
<rect x="359" y="403" width="25" height="11" fill="#ffd400"/>
<rect x="384" y="403" width="25" height="11" fill="#ffe800"/>
<rect x="409" y="403" width="12" height="11" fill="#ffc000"/>
<rect x="421" y="403" width="13" height="11" fill="#ffd400"/>
<rect x="434" y="403" width="12" height="11" fill="#ffff00"/>
<rect x="446" y="403" width="25" height="11" fill="#ffd400"/>
<rect x="471" y="403" width="12" height="11" fill="#ffff00"/>
<rect x="483" y="403" width="38" height="11" fill="#ffd400"/>
<rect x="521" y="403" width="12" height="11" fill="#ffe800"/>
<rect x="533" y="403" width="13" height="11" fill="#ffc000"/>
<rect x="546" y="403" width="12" height="11" fill="#ffd400"/>
<rect x="558" y="403" width="13" height="11" fill="#ffc000"/>
<rect x="571" y="403" width="25" height="11" fill="#ffd400"/>
<rect x="596" y="403" width="12" height="11" fill="#ffac00"/>
<rect x="608" y="403" width="12" height="11" fill="#ff9600"/>
<rect x="620" y="403" width="13" height="11" fill="#ff8000"/>
<rect x="633" y="403" width="12" height="11" fill="#ff9600"/>
<rect x="645" y="403" width="13" height="11" fill="#ffd400"/>
<rect x="658" y="403" width="12" height="11" fill="#ffc000"/>
<rect x="670" y="403" width="13" height="11" fill="#ffd400"/>
<rect x="683" y="403" width="12" height="11" fill="#ffffff"/>
<rect x="695" y="403" width="13" height="11" fill="#ffff00"/>
<rect x="708" y="403" width="12" height="11" fill="#ffe800"/>
<rect x="160" y="414" width="12" height="10" fill="#ffe800"/>
<rect x="172" y="414" width="25" height="10" fill="#ffffff"/>
<rect x="197" y="414" width="13" height="10" fill="#ffff00"/>
<rect x="210" y="414" width="12" height="10" fill="#ffffff"/>
<rect x="222" y="414" width="12" height="10" fill="#ffe800"/>
<rect x="234" y="414" width="13" height="10" fill="#ffffff"/>
<rect x="247" y="414" width="37" height="10" fill="#ffff00"/>
<rect x="284" y="414" width="13" height="10" fill="#ffe800"/>
<rect x="297" y="414" width="12" height="10" fill="#ffff00"/>
<rect x="309" y="414" width="25" height="10" fill="#ffe800"/>
<rect x="334" y="414" width="13" height="10" fill="#ffff00"/>
<rect x="347" y="414" width="12" height="10" fill="#ffd400"/>
<rect x="359" y="414" width="12" height="10" fill="#ffff00"/>
<rect x="371" y="414" width="13" height="10" fill="#ffe800"/>
<rect x="384" y="414" width="12" height="10" fill="#ffffff"/>
<rect x="396" y="414" width="13" height="10" fill="#ffff00"/>
<rect x="409" y="414" width="12" height="10" fill="#ffd400"/>
<rect x="421" y="414" width="13" height="10" fill="#ffff00"/>
<rect x="434" y="414" width="25" height="10" fill="#ffd400"/>
<rect x="459" y="414" width="12" height="10" fill="#ffe800"/>
<rect x="471" y="414" width="25" height="10" fill="#ffd400"/>
<rect x="496" y="414" width="25" height="10" fill="#ffe800"/>
<rect x="521" y="414" width="12" height="10" fill="#ffd400"/>
<rect x="533" y="414" width="38" height="10" fill="#ffe800"/>
<rect x="571" y="414" width="25" height="10" fill="#ffd400"/>
<rect x="596" y="414" width="24" height="10" fill="#ffc000"/>
<rect x="620" y="414" width="38" height="10" fill="#ff9600"/>
<rect x="658" y="414" width="12" height="10" fill="#ffc000"/>
<rect x="670" y="414" width="13" height="10" fill="#ffe800"/>
<rect x="683" y="414" width="12" height="10" fill="#ffd400"/>
<rect x="695" y="414" width="13" height="10" fill="#ffff00"/>
<rect x="172" y="424" width="13" height="11" fill="#ffe800"/>
<rect x="185" y="424" width="25" height="11" fill="#ffff00"/>
<rect x="210" y="424" width="12" height="11" fill="#ffffff"/>
<rect x="222" y="424" width="12" height="11" fill="#ffe800"/>
<rect x="234" y="424" width="13" height="11" fill="#ffffff"/>
<rect x="247" y="424" width="12" height="11" fill="#ffe800"/>
<rect x="259" y="424" width="38" height="11" fill="#ffff00"/>
<rect x="297" y="424" width="12" height="11" fill="#ffffff"/>
<rect x="309" y="424" width="13" height="11" fill="#ffe800"/>
<rect x="322" y="424" width="25" height="11" fill="#ffff00"/>
<rect x="347" y="424" width="12" height="11" fill="#ffe800"/>
<rect x="359" y="424" width="12" height="11" fill="#ffc000"/>
<rect x="371" y="424" width="13" height="11" fill="#ffe800"/>
<rect x="384" y="424" width="25" height="11" fill="#ffffff"/>
<rect x="409" y="424" width="12" height="11" fill="#ffff00"/>
<rect x="421" y="424" width="13" height="11" fill="#ffd400"/>
<rect x="434" y="424" width="37" height="11" fill="#ffe800"/>
<rect x="471" y="424" width="12" height="11" fill="#ffd400"/>
<rect x="483" y="424" width="13" height="11" fill="#ffffff"/>
<rect x="496" y="424" width="12" height="11" fill="#ffc000"/>
<rect x="508" y="424" width="13" height="11" fill="#ffd400"/>
<rect x="521" y="424" width="12" height="11" fill="#ffe800"/>
<rect x="533" y="424" width="13" height="11" fill="#ffd400"/>
<rect x="546" y="424" width="37" height="11" fill="#ffe800"/>
<rect x="583" y="424" width="13" height="11" fill="#ffd400"/>
<rect x="596" y="424" width="12" height="11" fill="#ffe800"/>
<rect x="608" y="424" width="12" height="11" fill="#ffd400"/>
<rect x="620" y="424" width="13" height="11" fill="#ffc000"/>
<rect x="633" y="424" width="25" height="11" fill="#ffac00"/>
<rect x="658" y="424" width="12" height="11" fill="#ffc000"/>
<rect x="670" y="424" width="13" height="11" fill="#ffe800"/>
<rect x="683" y="424" width="12" height="11" fill="#ffffff"/>
<rect x="185" y="435" width="12" height="11" fill="#ffff00"/>
<rect x="197" y="435" width="25" height="11" fill="#ffffff"/>
<rect x="222" y="435" width="12" height="11" fill="#ffe800"/>
<rect x="234" y="435" width="13" height="11" fill="#ffffff"/>
<rect x="247" y="435" width="12" height="11" fill="#ffff00"/>
<rect x="259" y="435" width="13" height="11" fill="#ffffff"/>
<rect x="272" y="435" width="12" height="11" fill="#ffd400"/>
<rect x="284" y="435" width="13" height="11" fill="#ffff00"/>
<rect x="297" y="435" width="25" height="11" fill="#ffffff"/>
<rect x="322" y="435" width="37" height="11" fill="#ffd400"/>
<rect x="359" y="435" width="25" height="11" fill="#ffe800"/>
<rect x="384" y="435" width="12" height="11" fill="#ffffff"/>
<rect x="396" y="435" width="13" height="11" fill="#ffff00"/>
<rect x="409" y="435" width="12" height="11" fill="#ffffff"/>
<rect x="421" y="435" width="13" height="11" fill="#ffd400"/>
<rect x="434" y="435" width="25" height="11" fill="#ffe800"/>
<rect x="459" y="435" width="12" height="11" fill="#ffff00"/>
<rect x="471" y="435" width="12" height="11" fill="#ffe800"/>
<rect x="483" y="435" width="13" height="11" fill="#ffc000"/>
<rect x="496" y="435" width="12" height="11" fill="#ffd400"/>
<rect x="508" y="435" width="13" height="11" fill="#ffe800"/>
<rect x="521" y="435" width="12" height="11" fill="#ffd400"/>
<rect x="533" y="435" width="13" height="11" fill="#ffe800"/>
<rect x="546" y="435" width="12" height="11" fill="#ffd400"/>
<rect x="558" y="435" width="25" height="11" fill="#ffe800"/>
<rect x="583" y="435" width="13" height="11" fill="#ffd400"/>
<rect x="596" y="435" width="12" height="11" fill="#ffff00"/>
<rect x="608" y="435" width="12" height="11" fill="#ffe800"/>
<rect x="620" y="435" width="13" height="11" fill="#ffd400"/>
<rect x="633" y="435" width="50" height="11" fill="#ffc000"/>
<rect x="197" y="446" width="13" height="11" fill="#ffffff"/>
<rect x="210" y="446" width="12" height="11" fill="#ffe800"/>
<rect x="222" y="446" width="25" height="11" fill="#ffff00"/>
<rect x="247" y="446" width="25" height="11" fill="#ffffff"/>
<rect x="272" y="446" width="12" height="11" fill="#ffe800"/>
<rect x="284" y="446" width="13" height="11" fill="#ffff00"/>
<rect x="297" y="446" width="25" height="11" fill="#ffffff"/>
<rect x="322" y="446" width="25" height="11" fill="#ffe800"/>
<rect x="347" y="446" width="24" height="11" fill="#ffff00"/>
<rect x="371" y="446" width="13" height="11" fill="#ffffff"/>
<rect x="384" y="446" width="37" height="11" fill="#ffe800"/>
<rect x="421" y="446" width="13" height="11" fill="#ffd400"/>
<rect x="434" y="446" width="25" height="11" fill="#ffe800"/>
<rect x="459" y="446" width="12" height="11" fill="#ffd400"/>
<rect x="471" y="446" width="37" height="11" fill="#ffe800"/>
<rect x="508" y="446" width="13" height="11" fill="#ffc000"/>
<rect x="521" y="446" width="12" height="11" fill="#ffd400"/>
<rect x="533" y="446" width="13" height="11" fill="#ffffff"/>
<rect x="546" y="446" width="12" height="11" fill="#ffe800"/>
<rect x="558" y="446" width="13" height="11" fill="#ffff00"/>
<rect x="571" y="446" width="25" height="11" fill="#ffe800"/>
<rect x="596" y="446" width="12" height="11" fill="#ffff00"/>
<rect x="608" y="446" width="50" height="11" fill="#ffe800"/>
<rect x="658" y="446" width="12" height="11" fill="#ffd400"/>
<rect x="210" y="457" width="12" height="11" fill="#ffff00"/>
<rect x="222" y="457" width="25" height="11" fill="#ffffff"/>
<rect x="247" y="457" width="12" height="11" fill="#ffff00"/>
<rect x="259" y="457" width="13" height="11" fill="#ffe800"/>
<rect x="272" y="457" width="12" height="11" fill="#ffd400"/>
<rect x="284" y="457" width="25" height="11" fill="#ffffff"/>
<rect x="309" y="457" width="13" height="11" fill="#ffe800"/>
<rect x="322" y="457" width="12" height="11" fill="#ffff00"/>
<rect x="334" y="457" width="13" height="11" fill="#ffffff"/>
<rect x="347" y="457" width="12" height="11" fill="#ffff00"/>
<rect x="359" y="457" width="25" height="11" fill="#ffe800"/>
<rect x="384" y="457" width="25" height="11" fill="#ffffff"/>
<rect x="409" y="457" width="12" height="11" fill="#ffff00"/>
<rect x="421" y="457" width="13" height="11" fill="#ffd400"/>
<rect x="434" y="457" width="12" height="11" fill="#ffffff"/>
<rect x="446" y="457" width="13" height="11" fill="#ffff00"/>
<rect x="459" y="457" width="12" height="11" fill="#ffe800"/>
<rect x="471" y="457" width="12" height="11" fill="#ffd400"/>
<rect x="483" y="457" width="13" height="11" fill="#ffe800"/>
<rect x="496" y="457" width="12" height="11" fill="#ffc000"/>
<rect x="508" y="457" width="13" height="11" fill="#ffe800"/>
<rect x="521" y="457" width="12" height="11" fill="#ffffff"/>
<rect x="533" y="457" width="13" height="11" fill="#ffff00"/>
<rect x="546" y="457" width="50" height="11" fill="#ffe800"/>
<rect x="596" y="457" width="12" height="11" fill="#ffff00"/>
<rect x="608" y="457" width="50" height="11" fill="#ffe800"/>
<rect x="222" y="468" width="12" height="10" fill="#ffffff"/>
<rect x="234" y="468" width="25" height="10" fill="#ffff00"/>
<rect x="259" y="468" width="25" height="10" fill="#ffffff"/>
<rect x="284" y="468" width="13" height="10" fill="#ffe800"/>
<rect x="297" y="468" width="12" height="10" fill="#ffffff"/>
<rect x="309" y="468" width="13" height="10" fill="#ffff00"/>
<rect x="322" y="468" width="25" height="10" fill="#ffe800"/>
<rect x="347" y="468" width="12" height="10" fill="#ffff00"/>
<rect x="359" y="468" width="12" height="10" fill="#ffe800"/>
<rect x="371" y="468" width="13" height="10" fill="#ffd400"/>
<rect x="384" y="468" width="25" height="10" fill="#ffffff"/>
<rect x="409" y="468" width="37" height="10" fill="#ffe800"/>
<rect x="446" y="468" width="13" height="10" fill="#ffd400"/>
<rect x="459" y="468" width="12" height="10" fill="#ffe800"/>
<rect x="471" y="468" width="12" height="10" fill="#ffff00"/>
<rect x="483" y="468" width="13" height="10" fill="#ffe800"/>
<rect x="496" y="468" width="12" height="10" fill="#ffff00"/>
<rect x="508" y="468" width="13" height="10" fill="#ffe800"/>
<rect x="521" y="468" width="25" height="10" fill="#ffff00"/>
<rect x="546" y="468" width="25" height="10" fill="#ffe800"/>
<rect x="571" y="468" width="12" height="10" fill="#ffffff"/>
<rect x="583" y="468" width="50" height="10" fill="#ffe800"/>
<rect x="247" y="478" width="12" height="11" fill="#ffe800"/>
<rect x="259" y="478" width="13" height="11" fill="#ffff00"/>
<rect x="272" y="478" width="12" height="11" fill="#ffffff"/>
<rect x="284" y="478" width="25" height="11" fill="#ffff00"/>
<rect x="309" y="478" width="38" height="11" fill="#ffe800"/>
<rect x="347" y="478" width="12" height="11" fill="#ffff00"/>
<rect x="359" y="478" width="25" height="11" fill="#ffe800"/>
<rect x="384" y="478" width="12" height="11" fill="#ffff00"/>
<rect x="396" y="478" width="25" height="11" fill="#ffffff"/>
<rect x="421" y="478" width="13" height="11" fill="#ffff00"/>
<rect x="434" y="478" width="12" height="11" fill="#ffe800"/>
<rect x="446" y="478" width="13" height="11" fill="#ffff00"/>
<rect x="459" y="478" width="12" height="11" fill="#ffe800"/>
<rect x="471" y="478" width="12" height="11" fill="#ffffff"/>
<rect x="483" y="478" width="63" height="11" fill="#ffe800"/>
<rect x="546" y="478" width="74" height="11" fill="#ffff00"/>
<rect x="272" y="489" width="12" height="11" fill="#ffffff"/>
<rect x="284" y="489" width="13" height="11" fill="#ffe800"/>
<rect x="297" y="489" width="25" height="11" fill="#ffffff"/>
<rect x="322" y="489" width="12" height="11" fill="#ffff00"/>
<rect x="334" y="489" width="13" height="11" fill="#ffffff"/>
<rect x="347" y="489" width="12" height="11" fill="#ffff00"/>
<rect x="359" y="489" width="12" height="11" fill="#ffffff"/>
<rect x="371" y="489" width="13" height="11" fill="#ffff00"/>
<rect x="384" y="489" width="12" height="11" fill="#ffffff"/>
<rect x="396" y="489" width="13" height="11" fill="#ffff00"/>
<rect x="409" y="489" width="12" height="11" fill="#ffffff"/>
<rect x="421" y="489" width="13" height="11" fill="#ffff00"/>
<rect x="434" y="489" width="25" height="11" fill="#ffffff"/>
<rect x="459" y="489" width="24" height="11" fill="#ffe800"/>
<rect x="483" y="489" width="13" height="11" fill="#ffff00"/>
<rect x="496" y="489" width="12" height="11" fill="#ffffff"/>
<rect x="508" y="489" width="13" height="11" fill="#ffe800"/>
<rect x="521" y="489" width="12" height="11" fill="#ffffff"/>
<rect x="533" y="489" width="13" height="11" fill="#ffff00"/>
<rect x="546" y="489" width="25" height="11" fill="#ffe800"/>
<rect x="571" y="489" width="12" height="11" fill="#ffff00"/>
<rect x="583" y="489" width="13" height="11" fill="#ffe800"/>
<rect x="297" y="500" width="50" height="11" fill="#ffffff"/>
<rect x="347" y="500" width="12" height="11" fill="#ffff00"/>
<rect x="359" y="500" width="37" height="11" fill="#ffffff"/>
<rect x="396" y="500" width="13" height="11" fill="#ffff00"/>
<rect x="409" y="500" width="12" height="11" fill="#ffffff"/>
<rect x="421" y="500" width="25" height="11" fill="#ffe800"/>
<rect x="446" y="500" width="25" height="11" fill="#ffff00"/>
<rect x="471" y="500" width="12" height="11" fill="#ffe800"/>
<rect x="483" y="500" width="13" height="11" fill="#ffff00"/>
<rect x="496" y="500" width="37" height="11" fill="#ffe800"/>
<rect x="533" y="500" width="13" height="11" fill="#ffff00"/>
<rect x="546" y="500" width="12" height="11" fill="#ffffff"/>
<rect x="347" y="511" width="12" height="10" fill="#ffff00"/>
<rect x="359" y="511" width="12" height="10" fill="#ffe800"/>
<rect x="371" y="511" width="25" height="10" fill="#ffff00"/>
<rect x="396" y="511" width="13" height="10" fill="#ffffff"/>
<rect x="409" y="511" width="12" height="10" fill="#ffff00"/>
<rect x="421" y="511" width="13" height="10" fill="#ffffff"/>
<rect x="434" y="511" width="12" height="10" fill="#ffff00"/>
<rect x="446" y="511" width="37" height="10" fill="#ffffff"/>
<rect x="483" y="511" width="25" height="10" fill="#ffff00"/>
<rect x="508" y="511" width="13" height="10" fill="#ffffff"/>
</g>
<svg x="99" y="41" width="667" height="484" viewBox="99 41 667 484" overflow="hidden">
<g fill="none" stroke="#777" stroke-width="1" stroke-dasharray="1.2,1.3">
<polyline points="444.9,221.7 452.6,218.3 463.0,240.3 483.2,262.9 504.0,282.7 524.1,302.5 545.5,322.5 567.0,343.0 587.1,363.1 608.2,382.8 629.3,402.9 650.4,422.3 671.0,442.8 691.5,462.5 684.1,466.9"/>
<polyline points="463.0,240.3 454.9,246.3"/>
<polyline points="483.2,262.9 475.7,267.0"/>
<polyline points="504.0,282.7 495.8,287.6"/>
<polyline points="524.1,302.5 517.0,307.5"/>
<polyline points="545.5,322.5 538.4,327.1"/>
<polyline points="567.0,343.0 559.8,346.6"/>
<polyline points="587.1,363.1 581.1,365.1"/>
<polyline points="608.2,382.8 602.2,386.2"/>
<polyline points="629.3,402.9 622.2,406.3"/>
<polyline points="650.4,422.3 643.3,425.9"/>
<polyline points="671.0,442.8 664.4,445.4"/>
<polyline points="97.0,271.3 130.0,280.5 169.5,293.0 163.0,301.0"/>
<polyline points="130.0,280.5 124.0,287.5"/>
</g>
<g fill="none" stroke="#777" stroke-width="2.2" stroke-linejoin="round">
<polyline points="97.5,112.1 128.0,127.9 132.0,132.0 151.2,155.0 158.0,164.0 162.5,167.8 170.0,170.6 200.0,180.9 260.0,204.7 322.0,230.0 355.5,245.0"/>
<polyline points="231.2,163.4 286.8,176.9 291.3,179.1 362.5,228.1 375.6,236.3 412.0,274.3"/>
<polyline points="256.6,166.3 381.3,57.9"/>
<polyline points="341.5,38.0 444.5,237.8"/>
<polyline points="444.9,221.7 454.9,246.3 495.8,287.2 568.8,357.9 684.1,466.9"/>
<polyline points="238.9,328.0 265.7,362.9 283.6,397.7 288.9,402.5 341.0,427.0 383.0,457.0 434.0,492.0 483.0,525.5"/>
<polyline points="407.2,369.3 574.0,482.0 580.0,485.5 650.0,525.0"/>
<polyline points="97.0,280.0 163.0,301.0"/>
<polyline points="97.0,39.8 105.6,45.3"/>
</g>
<line x1="99" y1="387.3" x2="765" y2="345" stroke="#000" stroke-width="1.3"/>
</svg>
<g stroke-width="1" shape-rendering="crispEdges" fill="none">
<line x1="99" y1="41.5" x2="766" y2="41.5" stroke="#bfbfbf"/>
<line x1="765.5" y1="41" x2="765.5" y2="525" stroke="#c0c0c0"/>
<line x1="99.5" y1="41" x2="99.5" y2="525" stroke="#a4a4a4"/>
<line x1="99" y1="524.5" x2="766" y2="524.5" stroke="#a4a4a4"/>
</g>
<g font-size="20.5" text-anchor="end">
<text x="92.6" y="55.3" textLength="57.2" lengthAdjust="spacingAndGlyphs">33.25</text>
<text x="92.6" y="189.6" textLength="25.4" lengthAdjust="spacingAndGlyphs">33</text>
<text x="92.6" y="323.6" textLength="57.2" lengthAdjust="spacingAndGlyphs">32.75</text>
<text x="92.6" y="457.6" textLength="44.5" lengthAdjust="spacingAndGlyphs">32.5</text>
</g>
<g font-size="20.5" text-anchor="middle">
<text x="166.5" y="548" textLength="45.4" lengthAdjust="spacingAndGlyphs">-116</text>
<text x="321.5" y="548" textLength="77.2" lengthAdjust="spacingAndGlyphs">-115.75</text>
<text x="477.5" y="548" textLength="64.5" lengthAdjust="spacingAndGlyphs">-115.5</text>
<text x="633" y="548" textLength="77.2" lengthAdjust="spacingAndGlyphs">-115.25</text>
</g>
<text x="432" y="578" font-size="22.5" text-anchor="middle" textLength="109.4" lengthAdjust="spacingAndGlyphs">Longitude</text>
<text transform="translate(26,281.6) rotate(-90)" font-size="22.5" text-anchor="middle" textLength="90.5" lengthAdjust="spacingAndGlyphs">Latitude</text>
<g shape-rendering="crispEdges">
<rect x="50" y="592" width="36" height="14" fill="#ffff00"/>
<rect x="86" y="592" width="35" height="14" fill="#ffe800"/>
<rect x="121" y="592" width="35" height="14" fill="#ffd400"/>
<rect x="156" y="592" width="35" height="14" fill="#ffc000"/>
<rect x="191" y="592" width="35" height="14" fill="#ffac00"/>
<rect x="226" y="592" width="35" height="14" fill="#ff9600"/>
<rect x="261" y="592" width="35" height="14" fill="#ff8000"/>
<rect x="296" y="592" width="35" height="14" fill="#ff6700"/>
<rect x="331" y="592" width="35" height="14" fill="#fa4800"/>
<rect x="366" y="592" width="35" height="14" fill="#f02000"/>
<rect x="401" y="592" width="35" height="14" fill="#dc0f00"/>
<rect x="436" y="592" width="35" height="14" fill="#c40600"/>
<rect x="471" y="592" width="35" height="14" fill="#ad0000"/>
<rect x="506" y="592" width="35" height="14" fill="#960000"/>
<rect x="541" y="592" width="35" height="14" fill="#800000"/>
<rect x="576" y="592" width="35" height="14" fill="#690000"/>
<rect x="611" y="592" width="35" height="14" fill="#550000"/>
<rect x="646" y="592" width="35" height="14" fill="#440000"/>
<rect x="681" y="592" width="35" height="14" fill="#300000"/>
<rect x="716" y="592" width="35" height="14" fill="#000000"/>
</g>
<rect x="50.5" y="591.5" width="700" height="15" fill="none" stroke="#999" stroke-width="1" shape-rendering="crispEdges"/>
<g stroke="#999" stroke-width="1" shape-rendering="crispEdges">
<line x1="50.5" y1="606" x2="50.5" y2="608.5"/>
<line x1="120.5" y1="606" x2="120.5" y2="608.5"/>
<line x1="190.5" y1="606" x2="190.5" y2="608.5"/>
<line x1="260.5" y1="606" x2="260.5" y2="608.5"/>
<line x1="330.5" y1="606" x2="330.5" y2="608.5"/>
<line x1="400.5" y1="606" x2="400.5" y2="608.5"/>
<line x1="470.5" y1="606" x2="470.5" y2="608.5"/>
<line x1="540.5" y1="606" x2="540.5" y2="608.5"/>
<line x1="610.5" y1="606" x2="610.5" y2="608.5"/>
<line x1="680.5" y1="606" x2="680.5" y2="608.5"/>
<line x1="750.5" y1="606" x2="750.5" y2="608.5"/>
</g>
<g font-size="20.5" text-anchor="middle">
<text x="50.5" y="630" textLength="39.0" lengthAdjust="spacingAndGlyphs">-5.0</text>
<text x="120.5" y="630" textLength="39.0" lengthAdjust="spacingAndGlyphs">-4.5</text>
<text x="190.5" y="630" textLength="39.0" lengthAdjust="spacingAndGlyphs">-4.0</text>
<text x="260.5" y="630" textLength="39.0" lengthAdjust="spacingAndGlyphs">-3.5</text>
<text x="330.5" y="630" textLength="39.0" lengthAdjust="spacingAndGlyphs">-3.0</text>
<text x="400.5" y="630" textLength="39.0" lengthAdjust="spacingAndGlyphs">-2.5</text>
<text x="470.5" y="630" textLength="39.0" lengthAdjust="spacingAndGlyphs">-2.0</text>
<text x="540.5" y="630" textLength="39.0" lengthAdjust="spacingAndGlyphs">-1.5</text>
<text x="610.5" y="630" textLength="39.0" lengthAdjust="spacingAndGlyphs">-1.0</text>
<text x="680.5" y="630" textLength="39.0" lengthAdjust="spacingAndGlyphs">-0.5</text>
<text x="750.5" y="630" textLength="31.8" lengthAdjust="spacingAndGlyphs">0.0</text>
</g>
<text x="400" y="659" font-size="22.5" text-anchor="middle" textLength="344.2" lengthAdjust="spacingAndGlyphs">Log10 Probability M≥3, 1 Week</text>
</svg>
</body></html>
